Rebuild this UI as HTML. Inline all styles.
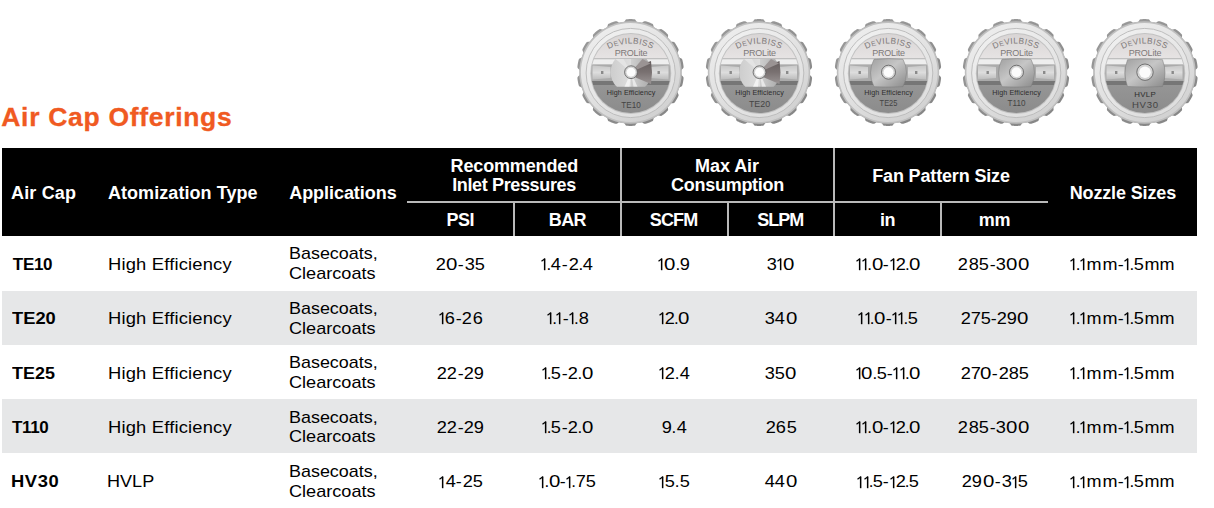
<!DOCTYPE html>
<html><head><meta charset="utf-8"><style>
html,body{margin:0;padding:0;background:#fff;}
body{width:1214px;height:508px;position:relative;overflow:hidden;font-family:"Liberation Sans",sans-serif;}
.t{position:absolute;white-space:nowrap;}
.g1{position:absolute;}
.hd{position:absolute;left:1.5px;top:147.8px;width:1195.8px;height:88px;background:#000;}
.bg{position:absolute;left:1.5px;width:1195.8px;background:#e6e7e8;}
.ln{position:absolute;background:#b9b9b9;}
svg{position:absolute;left:0;top:0;}
</style></head><body>
<svg width="1214" height="140" viewBox="0 0 1214 140">
<defs>
<linearGradient id="gTop" x1="0" y1="0" x2="0" y2="1">
<stop offset="0" stop-color="#d8d4d4"/><stop offset="1" stop-color="#e6e3e3"/></linearGradient>
<linearGradient id="gRing" x1="0.2" y1="0" x2="0.8" y2="1">
<stop offset="0" stop-color="#eeeeee"/><stop offset="0.55" stop-color="#e0e0e0"/><stop offset="1" stop-color="#cfcfcf"/></linearGradient>
<linearGradient id="gRing2" x1="0.2" y1="0" x2="0.8" y2="1"><stop offset="0" stop-color="#f0f0f0"/><stop offset="1" stop-color="#dddddd"/></linearGradient>
<linearGradient id="gGear" x1="0.2" y1="0" x2="0.8" y2="1">
<stop offset="0" stop-color="#9a9a9a"/><stop offset="1" stop-color="#858585"/></linearGradient>
<linearGradient id="gBot" x1="0" y1="0" x2="0" y2="1">
<stop offset="0" stop-color="#959595"/><stop offset="1" stop-color="#8b8b8b"/></linearGradient>
<linearGradient id="gDisc" x1="0" y1="0" x2="1" y2="0">
<stop offset="0" stop-color="#cdcdcd"/><stop offset="0.5" stop-color="#dedede"/><stop offset="0.5" stop-color="#d0d0d0"/><stop offset="1" stop-color="#a8a8a8"/></linearGradient>
<linearGradient id="gWedge" x1="0" y1="0" x2="0" y2="1"><stop offset="0" stop-color="#645c5c"/><stop offset="0.5" stop-color="#7a7272"/><stop offset="1" stop-color="#9a9494"/></linearGradient>
<linearGradient id="gPlate" x1="0" y1="0" x2="1" y2="1">
<stop offset="0" stop-color="#a0a0a0"/><stop offset="0.45" stop-color="#c6c6c6"/><stop offset="1" stop-color="#8a8a8a"/></linearGradient>
<linearGradient id="gPanel" x1="0" y1="0" x2="0" y2="1">
<stop offset="0" stop-color="#c8c8c8"/><stop offset="0.5" stop-color="#dddddd"/><stop offset="1" stop-color="#bdbdbd"/></linearGradient>
<path id="arc" d="M-30,-17.8 A46,46 0 0 1 30,-17.8" />
<clipPath id="face"><circle cx="0.3" cy="1" r="39.6"/></clipPath>
<clipPath id="band"><rect x="-41" y="-13.6" width="82" height="27.9"/></clipPath>
</defs><g transform="translate(630.5,72.5)"><path d="M0.00,-53.40 L0.78,-53.39 L1.55,-53.38 L2.33,-53.35 L3.10,-53.30 L3.88,-53.21 L4.63,-52.94 L5.32,-52.10 L5.97,-51.07 L6.66,-50.61 L7.38,-50.41 L8.11,-50.27 L8.84,-50.15 L9.57,-50.02 L10.30,-49.90 L11.05,-49.84 L11.86,-50.03 L12.82,-50.77 L13.75,-51.33 L14.56,-51.33 L15.31,-51.15 L16.06,-50.93 L16.80,-50.69 L17.53,-50.44 L18.26,-50.18 L18.99,-49.91 L19.72,-49.63 L20.43,-49.33 L21.15,-49.02 L21.84,-48.68 L22.46,-48.16 L22.82,-47.13 L23.08,-45.95 L23.57,-45.28 L24.18,-44.85 L24.82,-44.47 L25.46,-44.10 L26.10,-43.73 L26.75,-43.36 L27.43,-43.05 L28.26,-42.96 L29.41,-43.33 L30.48,-43.53 L31.23,-43.26 L31.88,-42.83 L32.51,-42.36 L33.12,-41.89 L33.73,-41.40 L34.32,-40.91 L34.92,-40.40 L35.50,-39.89 L36.08,-39.37 L36.64,-38.84 L37.17,-38.27 L37.58,-37.58 L37.56,-36.49 L37.40,-35.29 L37.63,-34.49 L38.06,-33.87 L38.53,-33.30 L39.01,-32.73 L39.48,-32.16 L39.97,-31.60 L40.50,-31.07 L41.25,-30.71 L42.46,-30.66 L43.53,-30.48 L44.15,-29.96 L44.61,-29.34 L45.04,-28.69 L45.45,-28.03 L45.85,-27.37 L46.25,-26.70 L46.63,-26.02 L47.00,-25.34 L47.36,-24.66 L47.71,-23.96 L48.02,-23.25 L48.16,-22.46 L47.78,-21.44 L47.21,-20.37 L47.16,-19.53 L47.35,-18.81 L47.60,-18.11 L47.85,-17.42 L48.10,-16.72 L48.36,-16.03 L48.68,-15.35 L49.26,-14.75 L50.38,-14.29 L51.33,-13.75 L51.73,-13.06 L51.95,-12.31 L52.13,-11.56 L52.30,-10.80 L52.45,-10.04 L52.59,-9.27 L52.72,-8.51 L52.84,-7.74 L52.94,-6.97 L53.03,-6.20 L53.08,-5.42 L52.94,-4.63 L52.23,-3.80 L51.33,-2.99 L51.00,-2.23 L50.93,-1.48 L50.92,-0.74 L50.92,0.00 L50.92,0.74 L50.93,1.48 L51.00,2.23 L51.33,2.99 L52.23,3.80 L52.94,4.63 L53.08,5.42 L53.03,6.20 L52.94,6.97 L52.84,7.74 L52.72,8.51 L52.59,9.27 L52.45,10.04 L52.30,10.80 L52.13,11.56 L51.95,12.31 L51.73,13.06 L51.33,13.75 L50.38,14.29 L49.26,14.75 L48.68,15.35 L48.36,16.03 L48.10,16.72 L47.85,17.42 L47.60,18.11 L47.35,18.81 L47.16,19.53 L47.21,20.37 L47.78,21.44 L48.16,22.46 L48.02,23.25 L47.71,23.96 L47.36,24.66 L47.00,25.34 L46.63,26.02 L46.25,26.70 L45.85,27.37 L45.45,28.03 L45.04,28.69 L44.61,29.34 L44.15,29.96 L43.53,30.48 L42.46,30.66 L41.25,30.71 L40.50,31.07 L39.97,31.60 L39.48,32.16 L39.01,32.73 L38.53,33.30 L38.06,33.87 L37.63,34.49 L37.40,35.29 L37.56,36.49 L37.58,37.58 L37.17,38.27 L36.64,38.84 L36.08,39.37 L35.50,39.89 L34.92,40.40 L34.32,40.91 L33.73,41.40 L33.12,41.89 L32.51,42.36 L31.88,42.83 L31.23,43.26 L30.48,43.53 L29.41,43.33 L28.26,42.96 L27.43,43.05 L26.75,43.36 L26.10,43.73 L25.46,44.10 L24.82,44.47 L24.18,44.85 L23.57,45.28 L23.08,45.95 L22.82,47.13 L22.46,48.16 L21.84,48.68 L21.15,49.02 L20.43,49.33 L19.72,49.63 L18.99,49.91 L18.26,50.18 L17.53,50.44 L16.80,50.69 L16.06,50.93 L15.31,51.15 L14.56,51.33 L13.75,51.33 L12.82,50.77 L11.86,50.03 L11.05,49.84 L10.30,49.90 L9.57,50.02 L8.84,50.15 L8.11,50.27 L7.38,50.41 L6.66,50.61 L5.97,51.07 L5.32,52.10 L4.63,52.94 L3.88,53.21 L3.10,53.30 L2.33,53.35 L1.55,53.38 L0.78,53.39 L0.00,53.40 L-0.78,53.39 L-1.55,53.38 L-2.33,53.35 L-3.10,53.30 L-3.88,53.21 L-4.63,52.94 L-5.32,52.10 L-5.97,51.07 L-6.66,50.61 L-7.38,50.41 L-8.11,50.27 L-8.84,50.15 L-9.57,50.02 L-10.30,49.90 L-11.05,49.84 L-11.86,50.03 L-12.82,50.77 L-13.75,51.33 L-14.56,51.33 L-15.31,51.15 L-16.06,50.93 L-16.80,50.69 L-17.53,50.44 L-18.26,50.18 L-18.99,49.91 L-19.72,49.63 L-20.43,49.33 L-21.15,49.02 L-21.84,48.68 L-22.46,48.16 L-22.82,47.13 L-23.08,45.95 L-23.57,45.28 L-24.18,44.85 L-24.82,44.47 L-25.46,44.10 L-26.10,43.73 L-26.75,43.36 L-27.43,43.05 L-28.26,42.96 L-29.41,43.33 L-30.48,43.53 L-31.23,43.26 L-31.88,42.83 L-32.51,42.36 L-33.12,41.89 L-33.73,41.40 L-34.32,40.91 L-34.92,40.40 L-35.50,39.89 L-36.08,39.37 L-36.64,38.84 L-37.17,38.27 L-37.58,37.58 L-37.56,36.49 L-37.40,35.29 L-37.63,34.49 L-38.06,33.87 L-38.53,33.30 L-39.01,32.73 L-39.48,32.16 L-39.97,31.60 L-40.50,31.07 L-41.25,30.71 L-42.46,30.66 L-43.53,30.48 L-44.15,29.96 L-44.61,29.34 L-45.04,28.69 L-45.45,28.03 L-45.85,27.37 L-46.25,26.70 L-46.63,26.02 L-47.00,25.34 L-47.36,24.66 L-47.71,23.96 L-48.02,23.25 L-48.16,22.46 L-47.78,21.44 L-47.21,20.37 L-47.16,19.53 L-47.35,18.81 L-47.60,18.11 L-47.85,17.42 L-48.10,16.72 L-48.36,16.03 L-48.68,15.35 L-49.26,14.75 L-50.38,14.29 L-51.33,13.75 L-51.73,13.06 L-51.95,12.31 L-52.13,11.56 L-52.30,10.80 L-52.45,10.04 L-52.59,9.27 L-52.72,8.51 L-52.84,7.74 L-52.94,6.97 L-53.03,6.20 L-53.08,5.42 L-52.94,4.63 L-52.23,3.80 L-51.33,2.99 L-51.00,2.23 L-50.93,1.48 L-50.92,0.74 L-50.92,0.00 L-50.92,-0.74 L-50.93,-1.48 L-51.00,-2.23 L-51.33,-2.99 L-52.23,-3.80 L-52.94,-4.63 L-53.08,-5.42 L-53.03,-6.20 L-52.94,-6.97 L-52.84,-7.74 L-52.72,-8.51 L-52.59,-9.27 L-52.45,-10.04 L-52.30,-10.80 L-52.13,-11.56 L-51.95,-12.31 L-51.73,-13.06 L-51.33,-13.75 L-50.38,-14.29 L-49.26,-14.75 L-48.68,-15.35 L-48.36,-16.03 L-48.10,-16.72 L-47.85,-17.42 L-47.60,-18.11 L-47.35,-18.81 L-47.16,-19.53 L-47.21,-20.37 L-47.78,-21.44 L-48.16,-22.46 L-48.02,-23.25 L-47.71,-23.96 L-47.36,-24.66 L-47.00,-25.34 L-46.63,-26.02 L-46.25,-26.70 L-45.85,-27.37 L-45.45,-28.03 L-45.04,-28.69 L-44.61,-29.34 L-44.15,-29.96 L-43.53,-30.48 L-42.46,-30.66 L-41.25,-30.71 L-40.50,-31.07 L-39.97,-31.60 L-39.48,-32.16 L-39.01,-32.73 L-38.53,-33.30 L-38.06,-33.87 L-37.63,-34.49 L-37.40,-35.29 L-37.56,-36.49 L-37.58,-37.58 L-37.17,-38.27 L-36.64,-38.84 L-36.08,-39.37 L-35.50,-39.89 L-34.92,-40.40 L-34.32,-40.91 L-33.73,-41.40 L-33.12,-41.89 L-32.51,-42.36 L-31.88,-42.83 L-31.23,-43.26 L-30.48,-43.53 L-29.41,-43.33 L-28.26,-42.96 L-27.43,-43.05 L-26.75,-43.36 L-26.10,-43.73 L-25.46,-44.10 L-24.82,-44.47 L-24.18,-44.85 L-23.57,-45.28 L-23.08,-45.95 L-22.82,-47.13 L-22.46,-48.16 L-21.84,-48.68 L-21.15,-49.02 L-20.43,-49.33 L-19.72,-49.63 L-18.99,-49.91 L-18.26,-50.18 L-17.53,-50.44 L-16.80,-50.69 L-16.06,-50.93 L-15.31,-51.15 L-14.56,-51.33 L-13.75,-51.33 L-12.82,-50.77 L-11.86,-50.03 L-11.05,-49.84 L-10.30,-49.90 L-9.57,-50.02 L-8.84,-50.15 L-8.11,-50.27 L-7.38,-50.41 L-6.66,-50.61 L-5.97,-51.07 L-5.32,-52.10 L-4.63,-52.94 L-3.88,-53.21 L-3.10,-53.30 L-2.33,-53.35 L-1.55,-53.38 L-0.78,-53.39Z" fill="url(#gGear)"/><circle r="51.2" fill="#bfbfbf"/><circle r="49.6" fill="url(#gRing)"/><circle cx="0.2" cy="0.5" r="44.6" fill="url(#gRing2)" stroke="#b9b9b9" stroke-width="0.9"/><circle cx="0.3" cy="1" r="40.5" fill="#c2c2c2"/><g clip-path="url(#face)"><rect x="-41" y="-41" width="82" height="26.8" fill="url(#gTop)"/><rect x="-41" y="-14.2" width="82" height="1" fill="#b9b9b9"/><rect x="-41" y="-13.2" width="82" height="5.2" fill="#eeeeee"/><rect x="-41" y="-8" width="82" height="16.5" fill="#ababab"/><path d="M-38,-7 L-20,-5.5 L-20,5.5 L-38,7 Z" fill="url(#gPanel)"/><path d="M38,-7 L20,-5.5 L20,5.5 L38,7 Z" fill="url(#gPanel)"/><rect x="-29.5" y="-1.5" width="2.4" height="3" fill="#8a8a8a"/><rect x="27" y="-1.5" width="2.4" height="3" fill="#8a8a8a"/><rect x="-41" y="8.5" width="82" height="4" fill="#767676"/><rect x="-41" y="12.5" width="82" height="30" fill="url(#gBot)"/><g clip-path="url(#band)"><circle cx="0.5" cy="-0.3" r="20.4" fill="url(#gDisc)"/><path d="M5,-5.5 L20.5,-11.5 L21.5,0 L20.5,11.5 L5,5 Z" fill="url(#gWedge)"/><path d="M0.5,-0.3 L12,-13.6 L20,-9 Z" fill="#9a9393"/><path d="M0.5,-0.3 L-6,14.3 L-1,14.3 Z" fill="#f2f2f2"/><path d="M0.5,-0.3 L3,14.3 L7,14.3 Z" fill="#e8e8e8"/><path d="M0.5,-0.3 L-15,-13.6 L-7,-13.6 Z" fill="#e4e4e4"/></g><circle cx="0.5" cy="-0.3" r="6.4" fill="#d4d4d4" stroke="#5a5a5a" stroke-width="0.8"/><circle cx="0.5" cy="-0.3" r="4.48" fill="#fcfcfc"/></g><text font-family="Liberation Sans" font-size="8.4" fill="#7d7878" letter-spacing="0.35"><textPath href="#arc" startOffset="50%" text-anchor="middle">D<tspan font-size="7">E</tspan>VILBISS</textPath></text><text x="0.5" y="-17" font-family="Liberation Sans" font-size="9" fill="#7d7878" text-anchor="middle" letter-spacing="-0.2">PROLite</text><text x="-23.80" y="22.5" font-family="Liberation Sans" font-size="7.2" fill="#2e2e2e" textLength="48.6" lengthAdjust="spacing">High Efficiency</text><text x="-9.25" y="35.0" font-family="Liberation Sans" font-size="9.3" fill="#444" textLength="19.5" lengthAdjust="spacingAndGlyphs">TE10</text></g><g transform="translate(759,72.5)"><path d="M0.00,-53.40 L0.78,-53.39 L1.55,-53.38 L2.33,-53.35 L3.10,-53.30 L3.88,-53.21 L4.63,-52.94 L5.32,-52.10 L5.97,-51.07 L6.66,-50.61 L7.38,-50.41 L8.11,-50.27 L8.84,-50.15 L9.57,-50.02 L10.30,-49.90 L11.05,-49.84 L11.86,-50.03 L12.82,-50.77 L13.75,-51.33 L14.56,-51.33 L15.31,-51.15 L16.06,-50.93 L16.80,-50.69 L17.53,-50.44 L18.26,-50.18 L18.99,-49.91 L19.72,-49.63 L20.43,-49.33 L21.15,-49.02 L21.84,-48.68 L22.46,-48.16 L22.82,-47.13 L23.08,-45.95 L23.57,-45.28 L24.18,-44.85 L24.82,-44.47 L25.46,-44.10 L26.10,-43.73 L26.75,-43.36 L27.43,-43.05 L28.26,-42.96 L29.41,-43.33 L30.48,-43.53 L31.23,-43.26 L31.88,-42.83 L32.51,-42.36 L33.12,-41.89 L33.73,-41.40 L34.32,-40.91 L34.92,-40.40 L35.50,-39.89 L36.08,-39.37 L36.64,-38.84 L37.17,-38.27 L37.58,-37.58 L37.56,-36.49 L37.40,-35.29 L37.63,-34.49 L38.06,-33.87 L38.53,-33.30 L39.01,-32.73 L39.48,-32.16 L39.97,-31.60 L40.50,-31.07 L41.25,-30.71 L42.46,-30.66 L43.53,-30.48 L44.15,-29.96 L44.61,-29.34 L45.04,-28.69 L45.45,-28.03 L45.85,-27.37 L46.25,-26.70 L46.63,-26.02 L47.00,-25.34 L47.36,-24.66 L47.71,-23.96 L48.02,-23.25 L48.16,-22.46 L47.78,-21.44 L47.21,-20.37 L47.16,-19.53 L47.35,-18.81 L47.60,-18.11 L47.85,-17.42 L48.10,-16.72 L48.36,-16.03 L48.68,-15.35 L49.26,-14.75 L50.38,-14.29 L51.33,-13.75 L51.73,-13.06 L51.95,-12.31 L52.13,-11.56 L52.30,-10.80 L52.45,-10.04 L52.59,-9.27 L52.72,-8.51 L52.84,-7.74 L52.94,-6.97 L53.03,-6.20 L53.08,-5.42 L52.94,-4.63 L52.23,-3.80 L51.33,-2.99 L51.00,-2.23 L50.93,-1.48 L50.92,-0.74 L50.92,0.00 L50.92,0.74 L50.93,1.48 L51.00,2.23 L51.33,2.99 L52.23,3.80 L52.94,4.63 L53.08,5.42 L53.03,6.20 L52.94,6.97 L52.84,7.74 L52.72,8.51 L52.59,9.27 L52.45,10.04 L52.30,10.80 L52.13,11.56 L51.95,12.31 L51.73,13.06 L51.33,13.75 L50.38,14.29 L49.26,14.75 L48.68,15.35 L48.36,16.03 L48.10,16.72 L47.85,17.42 L47.60,18.11 L47.35,18.81 L47.16,19.53 L47.21,20.37 L47.78,21.44 L48.16,22.46 L48.02,23.25 L47.71,23.96 L47.36,24.66 L47.00,25.34 L46.63,26.02 L46.25,26.70 L45.85,27.37 L45.45,28.03 L45.04,28.69 L44.61,29.34 L44.15,29.96 L43.53,30.48 L42.46,30.66 L41.25,30.71 L40.50,31.07 L39.97,31.60 L39.48,32.16 L39.01,32.73 L38.53,33.30 L38.06,33.87 L37.63,34.49 L37.40,35.29 L37.56,36.49 L37.58,37.58 L37.17,38.27 L36.64,38.84 L36.08,39.37 L35.50,39.89 L34.92,40.40 L34.32,40.91 L33.73,41.40 L33.12,41.89 L32.51,42.36 L31.88,42.83 L31.23,43.26 L30.48,43.53 L29.41,43.33 L28.26,42.96 L27.43,43.05 L26.75,43.36 L26.10,43.73 L25.46,44.10 L24.82,44.47 L24.18,44.85 L23.57,45.28 L23.08,45.95 L22.82,47.13 L22.46,48.16 L21.84,48.68 L21.15,49.02 L20.43,49.33 L19.72,49.63 L18.99,49.91 L18.26,50.18 L17.53,50.44 L16.80,50.69 L16.06,50.93 L15.31,51.15 L14.56,51.33 L13.75,51.33 L12.82,50.77 L11.86,50.03 L11.05,49.84 L10.30,49.90 L9.57,50.02 L8.84,50.15 L8.11,50.27 L7.38,50.41 L6.66,50.61 L5.97,51.07 L5.32,52.10 L4.63,52.94 L3.88,53.21 L3.10,53.30 L2.33,53.35 L1.55,53.38 L0.78,53.39 L0.00,53.40 L-0.78,53.39 L-1.55,53.38 L-2.33,53.35 L-3.10,53.30 L-3.88,53.21 L-4.63,52.94 L-5.32,52.10 L-5.97,51.07 L-6.66,50.61 L-7.38,50.41 L-8.11,50.27 L-8.84,50.15 L-9.57,50.02 L-10.30,49.90 L-11.05,49.84 L-11.86,50.03 L-12.82,50.77 L-13.75,51.33 L-14.56,51.33 L-15.31,51.15 L-16.06,50.93 L-16.80,50.69 L-17.53,50.44 L-18.26,50.18 L-18.99,49.91 L-19.72,49.63 L-20.43,49.33 L-21.15,49.02 L-21.84,48.68 L-22.46,48.16 L-22.82,47.13 L-23.08,45.95 L-23.57,45.28 L-24.18,44.85 L-24.82,44.47 L-25.46,44.10 L-26.10,43.73 L-26.75,43.36 L-27.43,43.05 L-28.26,42.96 L-29.41,43.33 L-30.48,43.53 L-31.23,43.26 L-31.88,42.83 L-32.51,42.36 L-33.12,41.89 L-33.73,41.40 L-34.32,40.91 L-34.92,40.40 L-35.50,39.89 L-36.08,39.37 L-36.64,38.84 L-37.17,38.27 L-37.58,37.58 L-37.56,36.49 L-37.40,35.29 L-37.63,34.49 L-38.06,33.87 L-38.53,33.30 L-39.01,32.73 L-39.48,32.16 L-39.97,31.60 L-40.50,31.07 L-41.25,30.71 L-42.46,30.66 L-43.53,30.48 L-44.15,29.96 L-44.61,29.34 L-45.04,28.69 L-45.45,28.03 L-45.85,27.37 L-46.25,26.70 L-46.63,26.02 L-47.00,25.34 L-47.36,24.66 L-47.71,23.96 L-48.02,23.25 L-48.16,22.46 L-47.78,21.44 L-47.21,20.37 L-47.16,19.53 L-47.35,18.81 L-47.60,18.11 L-47.85,17.42 L-48.10,16.72 L-48.36,16.03 L-48.68,15.35 L-49.26,14.75 L-50.38,14.29 L-51.33,13.75 L-51.73,13.06 L-51.95,12.31 L-52.13,11.56 L-52.30,10.80 L-52.45,10.04 L-52.59,9.27 L-52.72,8.51 L-52.84,7.74 L-52.94,6.97 L-53.03,6.20 L-53.08,5.42 L-52.94,4.63 L-52.23,3.80 L-51.33,2.99 L-51.00,2.23 L-50.93,1.48 L-50.92,0.74 L-50.92,0.00 L-50.92,-0.74 L-50.93,-1.48 L-51.00,-2.23 L-51.33,-2.99 L-52.23,-3.80 L-52.94,-4.63 L-53.08,-5.42 L-53.03,-6.20 L-52.94,-6.97 L-52.84,-7.74 L-52.72,-8.51 L-52.59,-9.27 L-52.45,-10.04 L-52.30,-10.80 L-52.13,-11.56 L-51.95,-12.31 L-51.73,-13.06 L-51.33,-13.75 L-50.38,-14.29 L-49.26,-14.75 L-48.68,-15.35 L-48.36,-16.03 L-48.10,-16.72 L-47.85,-17.42 L-47.60,-18.11 L-47.35,-18.81 L-47.16,-19.53 L-47.21,-20.37 L-47.78,-21.44 L-48.16,-22.46 L-48.02,-23.25 L-47.71,-23.96 L-47.36,-24.66 L-47.00,-25.34 L-46.63,-26.02 L-46.25,-26.70 L-45.85,-27.37 L-45.45,-28.03 L-45.04,-28.69 L-44.61,-29.34 L-44.15,-29.96 L-43.53,-30.48 L-42.46,-30.66 L-41.25,-30.71 L-40.50,-31.07 L-39.97,-31.60 L-39.48,-32.16 L-39.01,-32.73 L-38.53,-33.30 L-38.06,-33.87 L-37.63,-34.49 L-37.40,-35.29 L-37.56,-36.49 L-37.58,-37.58 L-37.17,-38.27 L-36.64,-38.84 L-36.08,-39.37 L-35.50,-39.89 L-34.92,-40.40 L-34.32,-40.91 L-33.73,-41.40 L-33.12,-41.89 L-32.51,-42.36 L-31.88,-42.83 L-31.23,-43.26 L-30.48,-43.53 L-29.41,-43.33 L-28.26,-42.96 L-27.43,-43.05 L-26.75,-43.36 L-26.10,-43.73 L-25.46,-44.10 L-24.82,-44.47 L-24.18,-44.85 L-23.57,-45.28 L-23.08,-45.95 L-22.82,-47.13 L-22.46,-48.16 L-21.84,-48.68 L-21.15,-49.02 L-20.43,-49.33 L-19.72,-49.63 L-18.99,-49.91 L-18.26,-50.18 L-17.53,-50.44 L-16.80,-50.69 L-16.06,-50.93 L-15.31,-51.15 L-14.56,-51.33 L-13.75,-51.33 L-12.82,-50.77 L-11.86,-50.03 L-11.05,-49.84 L-10.30,-49.90 L-9.57,-50.02 L-8.84,-50.15 L-8.11,-50.27 L-7.38,-50.41 L-6.66,-50.61 L-5.97,-51.07 L-5.32,-52.10 L-4.63,-52.94 L-3.88,-53.21 L-3.10,-53.30 L-2.33,-53.35 L-1.55,-53.38 L-0.78,-53.39Z" fill="url(#gGear)"/><circle r="51.2" fill="#bfbfbf"/><circle r="49.6" fill="url(#gRing)"/><circle cx="0.2" cy="0.5" r="44.6" fill="url(#gRing2)" stroke="#b9b9b9" stroke-width="0.9"/><circle cx="0.3" cy="1" r="40.5" fill="#c2c2c2"/><g clip-path="url(#face)"><rect x="-41" y="-41" width="82" height="26.8" fill="url(#gTop)"/><rect x="-41" y="-14.2" width="82" height="1" fill="#b9b9b9"/><rect x="-41" y="-13.2" width="82" height="5.2" fill="#eeeeee"/><rect x="-41" y="-8" width="82" height="16.5" fill="#ababab"/><path d="M-38,-7 L-20,-5.5 L-20,5.5 L-38,7 Z" fill="url(#gPanel)"/><path d="M38,-7 L20,-5.5 L20,5.5 L38,7 Z" fill="url(#gPanel)"/><rect x="-29.5" y="-1.5" width="2.4" height="3" fill="#8a8a8a"/><rect x="27" y="-1.5" width="2.4" height="3" fill="#8a8a8a"/><rect x="-41" y="8.5" width="82" height="4" fill="#767676"/><rect x="-41" y="12.5" width="82" height="30" fill="url(#gBot)"/><g clip-path="url(#band)"><circle cx="0.5" cy="-0.3" r="20.4" fill="url(#gDisc)"/><path d="M5,-5.5 L20.5,-11.5 L21.5,0 L20.5,11.5 L5,5 Z" fill="url(#gWedge)"/><path d="M0.5,-0.3 L12,-13.6 L20,-9 Z" fill="#9a9393"/><path d="M0.5,-0.3 L-6,14.3 L-1,14.3 Z" fill="#f2f2f2"/><path d="M0.5,-0.3 L3,14.3 L7,14.3 Z" fill="#e8e8e8"/><path d="M0.5,-0.3 L-15,-13.6 L-7,-13.6 Z" fill="#e4e4e4"/></g><circle cx="0.5" cy="-0.3" r="6.4" fill="#d4d4d4" stroke="#5a5a5a" stroke-width="0.8"/><circle cx="0.5" cy="-0.3" r="4.48" fill="#fcfcfc"/></g><text font-family="Liberation Sans" font-size="8.4" fill="#7d7878" letter-spacing="0.35"><textPath href="#arc" startOffset="50%" text-anchor="middle">D<tspan font-size="7">E</tspan>VILBISS</textPath></text><text x="0.5" y="-17" font-family="Liberation Sans" font-size="9" fill="#7d7878" text-anchor="middle" letter-spacing="-0.2">PROLite</text><text x="-23.80" y="22.5" font-family="Liberation Sans" font-size="7.2" fill="#2e2e2e" textLength="48.6" lengthAdjust="spacing">High Efficiency</text><text x="-10.10" y="34.2" font-family="Liberation Sans" font-size="9.3" fill="#444" textLength="21.2" lengthAdjust="spacingAndGlyphs">TE20</text></g><g transform="translate(888,72.5)"><path d="M0.00,-53.40 L0.78,-53.39 L1.55,-53.38 L2.33,-53.35 L3.10,-53.30 L3.88,-53.21 L4.63,-52.94 L5.32,-52.10 L5.97,-51.07 L6.66,-50.61 L7.38,-50.41 L8.11,-50.27 L8.84,-50.15 L9.57,-50.02 L10.30,-49.90 L11.05,-49.84 L11.86,-50.03 L12.82,-50.77 L13.75,-51.33 L14.56,-51.33 L15.31,-51.15 L16.06,-50.93 L16.80,-50.69 L17.53,-50.44 L18.26,-50.18 L18.99,-49.91 L19.72,-49.63 L20.43,-49.33 L21.15,-49.02 L21.84,-48.68 L22.46,-48.16 L22.82,-47.13 L23.08,-45.95 L23.57,-45.28 L24.18,-44.85 L24.82,-44.47 L25.46,-44.10 L26.10,-43.73 L26.75,-43.36 L27.43,-43.05 L28.26,-42.96 L29.41,-43.33 L30.48,-43.53 L31.23,-43.26 L31.88,-42.83 L32.51,-42.36 L33.12,-41.89 L33.73,-41.40 L34.32,-40.91 L34.92,-40.40 L35.50,-39.89 L36.08,-39.37 L36.64,-38.84 L37.17,-38.27 L37.58,-37.58 L37.56,-36.49 L37.40,-35.29 L37.63,-34.49 L38.06,-33.87 L38.53,-33.30 L39.01,-32.73 L39.48,-32.16 L39.97,-31.60 L40.50,-31.07 L41.25,-30.71 L42.46,-30.66 L43.53,-30.48 L44.15,-29.96 L44.61,-29.34 L45.04,-28.69 L45.45,-28.03 L45.85,-27.37 L46.25,-26.70 L46.63,-26.02 L47.00,-25.34 L47.36,-24.66 L47.71,-23.96 L48.02,-23.25 L48.16,-22.46 L47.78,-21.44 L47.21,-20.37 L47.16,-19.53 L47.35,-18.81 L47.60,-18.11 L47.85,-17.42 L48.10,-16.72 L48.36,-16.03 L48.68,-15.35 L49.26,-14.75 L50.38,-14.29 L51.33,-13.75 L51.73,-13.06 L51.95,-12.31 L52.13,-11.56 L52.30,-10.80 L52.45,-10.04 L52.59,-9.27 L52.72,-8.51 L52.84,-7.74 L52.94,-6.97 L53.03,-6.20 L53.08,-5.42 L52.94,-4.63 L52.23,-3.80 L51.33,-2.99 L51.00,-2.23 L50.93,-1.48 L50.92,-0.74 L50.92,0.00 L50.92,0.74 L50.93,1.48 L51.00,2.23 L51.33,2.99 L52.23,3.80 L52.94,4.63 L53.08,5.42 L53.03,6.20 L52.94,6.97 L52.84,7.74 L52.72,8.51 L52.59,9.27 L52.45,10.04 L52.30,10.80 L52.13,11.56 L51.95,12.31 L51.73,13.06 L51.33,13.75 L50.38,14.29 L49.26,14.75 L48.68,15.35 L48.36,16.03 L48.10,16.72 L47.85,17.42 L47.60,18.11 L47.35,18.81 L47.16,19.53 L47.21,20.37 L47.78,21.44 L48.16,22.46 L48.02,23.25 L47.71,23.96 L47.36,24.66 L47.00,25.34 L46.63,26.02 L46.25,26.70 L45.85,27.37 L45.45,28.03 L45.04,28.69 L44.61,29.34 L44.15,29.96 L43.53,30.48 L42.46,30.66 L41.25,30.71 L40.50,31.07 L39.97,31.60 L39.48,32.16 L39.01,32.73 L38.53,33.30 L38.06,33.87 L37.63,34.49 L37.40,35.29 L37.56,36.49 L37.58,37.58 L37.17,38.27 L36.64,38.84 L36.08,39.37 L35.50,39.89 L34.92,40.40 L34.32,40.91 L33.73,41.40 L33.12,41.89 L32.51,42.36 L31.88,42.83 L31.23,43.26 L30.48,43.53 L29.41,43.33 L28.26,42.96 L27.43,43.05 L26.75,43.36 L26.10,43.73 L25.46,44.10 L24.82,44.47 L24.18,44.85 L23.57,45.28 L23.08,45.95 L22.82,47.13 L22.46,48.16 L21.84,48.68 L21.15,49.02 L20.43,49.33 L19.72,49.63 L18.99,49.91 L18.26,50.18 L17.53,50.44 L16.80,50.69 L16.06,50.93 L15.31,51.15 L14.56,51.33 L13.75,51.33 L12.82,50.77 L11.86,50.03 L11.05,49.84 L10.30,49.90 L9.57,50.02 L8.84,50.15 L8.11,50.27 L7.38,50.41 L6.66,50.61 L5.97,51.07 L5.32,52.10 L4.63,52.94 L3.88,53.21 L3.10,53.30 L2.33,53.35 L1.55,53.38 L0.78,53.39 L0.00,53.40 L-0.78,53.39 L-1.55,53.38 L-2.33,53.35 L-3.10,53.30 L-3.88,53.21 L-4.63,52.94 L-5.32,52.10 L-5.97,51.07 L-6.66,50.61 L-7.38,50.41 L-8.11,50.27 L-8.84,50.15 L-9.57,50.02 L-10.30,49.90 L-11.05,49.84 L-11.86,50.03 L-12.82,50.77 L-13.75,51.33 L-14.56,51.33 L-15.31,51.15 L-16.06,50.93 L-16.80,50.69 L-17.53,50.44 L-18.26,50.18 L-18.99,49.91 L-19.72,49.63 L-20.43,49.33 L-21.15,49.02 L-21.84,48.68 L-22.46,48.16 L-22.82,47.13 L-23.08,45.95 L-23.57,45.28 L-24.18,44.85 L-24.82,44.47 L-25.46,44.10 L-26.10,43.73 L-26.75,43.36 L-27.43,43.05 L-28.26,42.96 L-29.41,43.33 L-30.48,43.53 L-31.23,43.26 L-31.88,42.83 L-32.51,42.36 L-33.12,41.89 L-33.73,41.40 L-34.32,40.91 L-34.92,40.40 L-35.50,39.89 L-36.08,39.37 L-36.64,38.84 L-37.17,38.27 L-37.58,37.58 L-37.56,36.49 L-37.40,35.29 L-37.63,34.49 L-38.06,33.87 L-38.53,33.30 L-39.01,32.73 L-39.48,32.16 L-39.97,31.60 L-40.50,31.07 L-41.25,30.71 L-42.46,30.66 L-43.53,30.48 L-44.15,29.96 L-44.61,29.34 L-45.04,28.69 L-45.45,28.03 L-45.85,27.37 L-46.25,26.70 L-46.63,26.02 L-47.00,25.34 L-47.36,24.66 L-47.71,23.96 L-48.02,23.25 L-48.16,22.46 L-47.78,21.44 L-47.21,20.37 L-47.16,19.53 L-47.35,18.81 L-47.60,18.11 L-47.85,17.42 L-48.10,16.72 L-48.36,16.03 L-48.68,15.35 L-49.26,14.75 L-50.38,14.29 L-51.33,13.75 L-51.73,13.06 L-51.95,12.31 L-52.13,11.56 L-52.30,10.80 L-52.45,10.04 L-52.59,9.27 L-52.72,8.51 L-52.84,7.74 L-52.94,6.97 L-53.03,6.20 L-53.08,5.42 L-52.94,4.63 L-52.23,3.80 L-51.33,2.99 L-51.00,2.23 L-50.93,1.48 L-50.92,0.74 L-50.92,0.00 L-50.92,-0.74 L-50.93,-1.48 L-51.00,-2.23 L-51.33,-2.99 L-52.23,-3.80 L-52.94,-4.63 L-53.08,-5.42 L-53.03,-6.20 L-52.94,-6.97 L-52.84,-7.74 L-52.72,-8.51 L-52.59,-9.27 L-52.45,-10.04 L-52.30,-10.80 L-52.13,-11.56 L-51.95,-12.31 L-51.73,-13.06 L-51.33,-13.75 L-50.38,-14.29 L-49.26,-14.75 L-48.68,-15.35 L-48.36,-16.03 L-48.10,-16.72 L-47.85,-17.42 L-47.60,-18.11 L-47.35,-18.81 L-47.16,-19.53 L-47.21,-20.37 L-47.78,-21.44 L-48.16,-22.46 L-48.02,-23.25 L-47.71,-23.96 L-47.36,-24.66 L-47.00,-25.34 L-46.63,-26.02 L-46.25,-26.70 L-45.85,-27.37 L-45.45,-28.03 L-45.04,-28.69 L-44.61,-29.34 L-44.15,-29.96 L-43.53,-30.48 L-42.46,-30.66 L-41.25,-30.71 L-40.50,-31.07 L-39.97,-31.60 L-39.48,-32.16 L-39.01,-32.73 L-38.53,-33.30 L-38.06,-33.87 L-37.63,-34.49 L-37.40,-35.29 L-37.56,-36.49 L-37.58,-37.58 L-37.17,-38.27 L-36.64,-38.84 L-36.08,-39.37 L-35.50,-39.89 L-34.92,-40.40 L-34.32,-40.91 L-33.73,-41.40 L-33.12,-41.89 L-32.51,-42.36 L-31.88,-42.83 L-31.23,-43.26 L-30.48,-43.53 L-29.41,-43.33 L-28.26,-42.96 L-27.43,-43.05 L-26.75,-43.36 L-26.10,-43.73 L-25.46,-44.10 L-24.82,-44.47 L-24.18,-44.85 L-23.57,-45.28 L-23.08,-45.95 L-22.82,-47.13 L-22.46,-48.16 L-21.84,-48.68 L-21.15,-49.02 L-20.43,-49.33 L-19.72,-49.63 L-18.99,-49.91 L-18.26,-50.18 L-17.53,-50.44 L-16.80,-50.69 L-16.06,-50.93 L-15.31,-51.15 L-14.56,-51.33 L-13.75,-51.33 L-12.82,-50.77 L-11.86,-50.03 L-11.05,-49.84 L-10.30,-49.90 L-9.57,-50.02 L-8.84,-50.15 L-8.11,-50.27 L-7.38,-50.41 L-6.66,-50.61 L-5.97,-51.07 L-5.32,-52.10 L-4.63,-52.94 L-3.88,-53.21 L-3.10,-53.30 L-2.33,-53.35 L-1.55,-53.38 L-0.78,-53.39Z" fill="url(#gGear)"/><circle r="51.2" fill="#bfbfbf"/><circle r="49.6" fill="url(#gRing)"/><circle cx="0.2" cy="0.5" r="44.6" fill="url(#gRing2)" stroke="#b9b9b9" stroke-width="0.9"/><circle cx="0.3" cy="1" r="40.5" fill="#c2c2c2"/><g clip-path="url(#face)"><rect x="-41" y="-41" width="82" height="26.8" fill="url(#gTop)"/><rect x="-41" y="-14.2" width="82" height="1" fill="#b9b9b9"/><rect x="-41" y="-13.2" width="82" height="5.2" fill="#eeeeee"/><rect x="-41" y="-8" width="82" height="16.5" fill="#ababab"/><path d="M-38,-7 L-20,-5.5 L-20,5.5 L-38,7 Z" fill="url(#gPanel)"/><path d="M38,-7 L20,-5.5 L20,5.5 L38,7 Z" fill="url(#gPanel)"/><rect x="-29.5" y="-1.5" width="2.4" height="3" fill="#8a8a8a"/><rect x="27" y="-1.5" width="2.4" height="3" fill="#8a8a8a"/><rect x="-41" y="8.5" width="82" height="4" fill="#767676"/><rect x="-41" y="12.5" width="82" height="30" fill="url(#gBot)"/><path d="M-14,-13.2 Q0.5,-14.6 15,-13.2 Q22,0 15,14.2 Q0.5,15 -14,14.2 Q-21,0 -14,-13.2 Z" fill="url(#gPlate)" stroke="#7a7a7a" stroke-width="0.5"/><circle cx="0.5" cy="-0.3" r="7" fill="#d4d4d4" stroke="#5a5a5a" stroke-width="0.8"/><circle cx="0.5" cy="-0.3" r="4.90" fill="#fcfcfc"/></g><text font-family="Liberation Sans" font-size="8.4" fill="#7d7878" letter-spacing="0.35"><textPath href="#arc" startOffset="50%" text-anchor="middle">D<tspan font-size="7">E</tspan>VILBISS</textPath></text><text x="0.5" y="-17" font-family="Liberation Sans" font-size="9" fill="#7d7878" text-anchor="middle" letter-spacing="-0.2">PROLite</text><text x="-23.80" y="22.5" font-family="Liberation Sans" font-size="7.2" fill="#2e2e2e" textLength="48.6" lengthAdjust="spacing">High Efficiency</text><text x="-8.40" y="33.2" font-family="Liberation Sans" font-size="9.3" fill="#444" textLength="17.8" lengthAdjust="spacingAndGlyphs">TE25</text></g><g transform="translate(1016,72.5)"><path d="M0.00,-53.40 L0.78,-53.39 L1.55,-53.38 L2.33,-53.35 L3.10,-53.30 L3.88,-53.21 L4.63,-52.94 L5.32,-52.10 L5.97,-51.07 L6.66,-50.61 L7.38,-50.41 L8.11,-50.27 L8.84,-50.15 L9.57,-50.02 L10.30,-49.90 L11.05,-49.84 L11.86,-50.03 L12.82,-50.77 L13.75,-51.33 L14.56,-51.33 L15.31,-51.15 L16.06,-50.93 L16.80,-50.69 L17.53,-50.44 L18.26,-50.18 L18.99,-49.91 L19.72,-49.63 L20.43,-49.33 L21.15,-49.02 L21.84,-48.68 L22.46,-48.16 L22.82,-47.13 L23.08,-45.95 L23.57,-45.28 L24.18,-44.85 L24.82,-44.47 L25.46,-44.10 L26.10,-43.73 L26.75,-43.36 L27.43,-43.05 L28.26,-42.96 L29.41,-43.33 L30.48,-43.53 L31.23,-43.26 L31.88,-42.83 L32.51,-42.36 L33.12,-41.89 L33.73,-41.40 L34.32,-40.91 L34.92,-40.40 L35.50,-39.89 L36.08,-39.37 L36.64,-38.84 L37.17,-38.27 L37.58,-37.58 L37.56,-36.49 L37.40,-35.29 L37.63,-34.49 L38.06,-33.87 L38.53,-33.30 L39.01,-32.73 L39.48,-32.16 L39.97,-31.60 L40.50,-31.07 L41.25,-30.71 L42.46,-30.66 L43.53,-30.48 L44.15,-29.96 L44.61,-29.34 L45.04,-28.69 L45.45,-28.03 L45.85,-27.37 L46.25,-26.70 L46.63,-26.02 L47.00,-25.34 L47.36,-24.66 L47.71,-23.96 L48.02,-23.25 L48.16,-22.46 L47.78,-21.44 L47.21,-20.37 L47.16,-19.53 L47.35,-18.81 L47.60,-18.11 L47.85,-17.42 L48.10,-16.72 L48.36,-16.03 L48.68,-15.35 L49.26,-14.75 L50.38,-14.29 L51.33,-13.75 L51.73,-13.06 L51.95,-12.31 L52.13,-11.56 L52.30,-10.80 L52.45,-10.04 L52.59,-9.27 L52.72,-8.51 L52.84,-7.74 L52.94,-6.97 L53.03,-6.20 L53.08,-5.42 L52.94,-4.63 L52.23,-3.80 L51.33,-2.99 L51.00,-2.23 L50.93,-1.48 L50.92,-0.74 L50.92,0.00 L50.92,0.74 L50.93,1.48 L51.00,2.23 L51.33,2.99 L52.23,3.80 L52.94,4.63 L53.08,5.42 L53.03,6.20 L52.94,6.97 L52.84,7.74 L52.72,8.51 L52.59,9.27 L52.45,10.04 L52.30,10.80 L52.13,11.56 L51.95,12.31 L51.73,13.06 L51.33,13.75 L50.38,14.29 L49.26,14.75 L48.68,15.35 L48.36,16.03 L48.10,16.72 L47.85,17.42 L47.60,18.11 L47.35,18.81 L47.16,19.53 L47.21,20.37 L47.78,21.44 L48.16,22.46 L48.02,23.25 L47.71,23.96 L47.36,24.66 L47.00,25.34 L46.63,26.02 L46.25,26.70 L45.85,27.37 L45.45,28.03 L45.04,28.69 L44.61,29.34 L44.15,29.96 L43.53,30.48 L42.46,30.66 L41.25,30.71 L40.50,31.07 L39.97,31.60 L39.48,32.16 L39.01,32.73 L38.53,33.30 L38.06,33.87 L37.63,34.49 L37.40,35.29 L37.56,36.49 L37.58,37.58 L37.17,38.27 L36.64,38.84 L36.08,39.37 L35.50,39.89 L34.92,40.40 L34.32,40.91 L33.73,41.40 L33.12,41.89 L32.51,42.36 L31.88,42.83 L31.23,43.26 L30.48,43.53 L29.41,43.33 L28.26,42.96 L27.43,43.05 L26.75,43.36 L26.10,43.73 L25.46,44.10 L24.82,44.47 L24.18,44.85 L23.57,45.28 L23.08,45.95 L22.82,47.13 L22.46,48.16 L21.84,48.68 L21.15,49.02 L20.43,49.33 L19.72,49.63 L18.99,49.91 L18.26,50.18 L17.53,50.44 L16.80,50.69 L16.06,50.93 L15.31,51.15 L14.56,51.33 L13.75,51.33 L12.82,50.77 L11.86,50.03 L11.05,49.84 L10.30,49.90 L9.57,50.02 L8.84,50.15 L8.11,50.27 L7.38,50.41 L6.66,50.61 L5.97,51.07 L5.32,52.10 L4.63,52.94 L3.88,53.21 L3.10,53.30 L2.33,53.35 L1.55,53.38 L0.78,53.39 L0.00,53.40 L-0.78,53.39 L-1.55,53.38 L-2.33,53.35 L-3.10,53.30 L-3.88,53.21 L-4.63,52.94 L-5.32,52.10 L-5.97,51.07 L-6.66,50.61 L-7.38,50.41 L-8.11,50.27 L-8.84,50.15 L-9.57,50.02 L-10.30,49.90 L-11.05,49.84 L-11.86,50.03 L-12.82,50.77 L-13.75,51.33 L-14.56,51.33 L-15.31,51.15 L-16.06,50.93 L-16.80,50.69 L-17.53,50.44 L-18.26,50.18 L-18.99,49.91 L-19.72,49.63 L-20.43,49.33 L-21.15,49.02 L-21.84,48.68 L-22.46,48.16 L-22.82,47.13 L-23.08,45.95 L-23.57,45.28 L-24.18,44.85 L-24.82,44.47 L-25.46,44.10 L-26.10,43.73 L-26.75,43.36 L-27.43,43.05 L-28.26,42.96 L-29.41,43.33 L-30.48,43.53 L-31.23,43.26 L-31.88,42.83 L-32.51,42.36 L-33.12,41.89 L-33.73,41.40 L-34.32,40.91 L-34.92,40.40 L-35.50,39.89 L-36.08,39.37 L-36.64,38.84 L-37.17,38.27 L-37.58,37.58 L-37.56,36.49 L-37.40,35.29 L-37.63,34.49 L-38.06,33.87 L-38.53,33.30 L-39.01,32.73 L-39.48,32.16 L-39.97,31.60 L-40.50,31.07 L-41.25,30.71 L-42.46,30.66 L-43.53,30.48 L-44.15,29.96 L-44.61,29.34 L-45.04,28.69 L-45.45,28.03 L-45.85,27.37 L-46.25,26.70 L-46.63,26.02 L-47.00,25.34 L-47.36,24.66 L-47.71,23.96 L-48.02,23.25 L-48.16,22.46 L-47.78,21.44 L-47.21,20.37 L-47.16,19.53 L-47.35,18.81 L-47.60,18.11 L-47.85,17.42 L-48.10,16.72 L-48.36,16.03 L-48.68,15.35 L-49.26,14.75 L-50.38,14.29 L-51.33,13.75 L-51.73,13.06 L-51.95,12.31 L-52.13,11.56 L-52.30,10.80 L-52.45,10.04 L-52.59,9.27 L-52.72,8.51 L-52.84,7.74 L-52.94,6.97 L-53.03,6.20 L-53.08,5.42 L-52.94,4.63 L-52.23,3.80 L-51.33,2.99 L-51.00,2.23 L-50.93,1.48 L-50.92,0.74 L-50.92,0.00 L-50.92,-0.74 L-50.93,-1.48 L-51.00,-2.23 L-51.33,-2.99 L-52.23,-3.80 L-52.94,-4.63 L-53.08,-5.42 L-53.03,-6.20 L-52.94,-6.97 L-52.84,-7.74 L-52.72,-8.51 L-52.59,-9.27 L-52.45,-10.04 L-52.30,-10.80 L-52.13,-11.56 L-51.95,-12.31 L-51.73,-13.06 L-51.33,-13.75 L-50.38,-14.29 L-49.26,-14.75 L-48.68,-15.35 L-48.36,-16.03 L-48.10,-16.72 L-47.85,-17.42 L-47.60,-18.11 L-47.35,-18.81 L-47.16,-19.53 L-47.21,-20.37 L-47.78,-21.44 L-48.16,-22.46 L-48.02,-23.25 L-47.71,-23.96 L-47.36,-24.66 L-47.00,-25.34 L-46.63,-26.02 L-46.25,-26.70 L-45.85,-27.37 L-45.45,-28.03 L-45.04,-28.69 L-44.61,-29.34 L-44.15,-29.96 L-43.53,-30.48 L-42.46,-30.66 L-41.25,-30.71 L-40.50,-31.07 L-39.97,-31.60 L-39.48,-32.16 L-39.01,-32.73 L-38.53,-33.30 L-38.06,-33.87 L-37.63,-34.49 L-37.40,-35.29 L-37.56,-36.49 L-37.58,-37.58 L-37.17,-38.27 L-36.64,-38.84 L-36.08,-39.37 L-35.50,-39.89 L-34.92,-40.40 L-34.32,-40.91 L-33.73,-41.40 L-33.12,-41.89 L-32.51,-42.36 L-31.88,-42.83 L-31.23,-43.26 L-30.48,-43.53 L-29.41,-43.33 L-28.26,-42.96 L-27.43,-43.05 L-26.75,-43.36 L-26.10,-43.73 L-25.46,-44.10 L-24.82,-44.47 L-24.18,-44.85 L-23.57,-45.28 L-23.08,-45.95 L-22.82,-47.13 L-22.46,-48.16 L-21.84,-48.68 L-21.15,-49.02 L-20.43,-49.33 L-19.72,-49.63 L-18.99,-49.91 L-18.26,-50.18 L-17.53,-50.44 L-16.80,-50.69 L-16.06,-50.93 L-15.31,-51.15 L-14.56,-51.33 L-13.75,-51.33 L-12.82,-50.77 L-11.86,-50.03 L-11.05,-49.84 L-10.30,-49.90 L-9.57,-50.02 L-8.84,-50.15 L-8.11,-50.27 L-7.38,-50.41 L-6.66,-50.61 L-5.97,-51.07 L-5.32,-52.10 L-4.63,-52.94 L-3.88,-53.21 L-3.10,-53.30 L-2.33,-53.35 L-1.55,-53.38 L-0.78,-53.39Z" fill="url(#gGear)"/><circle r="51.2" fill="#bfbfbf"/><circle r="49.6" fill="url(#gRing)"/><circle cx="0.2" cy="0.5" r="44.6" fill="url(#gRing2)" stroke="#b9b9b9" stroke-width="0.9"/><circle cx="0.3" cy="1" r="40.5" fill="#c2c2c2"/><g clip-path="url(#face)"><rect x="-41" y="-41" width="82" height="26.8" fill="url(#gTop)"/><rect x="-41" y="-14.2" width="82" height="1" fill="#b9b9b9"/><rect x="-41" y="-13.2" width="82" height="5.2" fill="#eeeeee"/><rect x="-41" y="-8" width="82" height="16.5" fill="#ababab"/><path d="M-38,-7 L-20,-5.5 L-20,5.5 L-38,7 Z" fill="url(#gPanel)"/><path d="M38,-7 L20,-5.5 L20,5.5 L38,7 Z" fill="url(#gPanel)"/><rect x="-29.5" y="-1.5" width="2.4" height="3" fill="#8a8a8a"/><rect x="27" y="-1.5" width="2.4" height="3" fill="#8a8a8a"/><rect x="-41" y="8.5" width="82" height="4" fill="#767676"/><rect x="-41" y="12.5" width="82" height="30" fill="url(#gBot)"/><path d="M-14,-13.2 Q0.5,-14.6 15,-13.2 Q22,0 15,14.2 Q0.5,15 -14,14.2 Q-21,0 -14,-13.2 Z" fill="url(#gPlate)" stroke="#7a7a7a" stroke-width="0.5"/><circle cx="0.5" cy="-0.3" r="7" fill="#d4d4d4" stroke="#5a5a5a" stroke-width="0.8"/><circle cx="0.5" cy="-0.3" r="4.90" fill="#fcfcfc"/></g><text font-family="Liberation Sans" font-size="8.4" fill="#7d7878" letter-spacing="0.35"><textPath href="#arc" startOffset="50%" text-anchor="middle">D<tspan font-size="7">E</tspan>VILBISS</textPath></text><text x="0.5" y="-17" font-family="Liberation Sans" font-size="9" fill="#7d7878" text-anchor="middle" letter-spacing="-0.2">PROLite</text><text x="-23.80" y="22.5" font-family="Liberation Sans" font-size="7.2" fill="#2e2e2e" textLength="48.6" lengthAdjust="spacing">High Efficiency</text><text x="-8.45" y="33.2" font-family="Liberation Sans" font-size="9.3" fill="#444" textLength="17.9" lengthAdjust="spacingAndGlyphs">T110</text></g><g transform="translate(1144.5,72.5)"><path d="M0.00,-53.40 L0.78,-53.39 L1.55,-53.38 L2.33,-53.35 L3.10,-53.30 L3.88,-53.21 L4.63,-52.94 L5.32,-52.10 L5.97,-51.07 L6.66,-50.61 L7.38,-50.41 L8.11,-50.27 L8.84,-50.15 L9.57,-50.02 L10.30,-49.90 L11.05,-49.84 L11.86,-50.03 L12.82,-50.77 L13.75,-51.33 L14.56,-51.33 L15.31,-51.15 L16.06,-50.93 L16.80,-50.69 L17.53,-50.44 L18.26,-50.18 L18.99,-49.91 L19.72,-49.63 L20.43,-49.33 L21.15,-49.02 L21.84,-48.68 L22.46,-48.16 L22.82,-47.13 L23.08,-45.95 L23.57,-45.28 L24.18,-44.85 L24.82,-44.47 L25.46,-44.10 L26.10,-43.73 L26.75,-43.36 L27.43,-43.05 L28.26,-42.96 L29.41,-43.33 L30.48,-43.53 L31.23,-43.26 L31.88,-42.83 L32.51,-42.36 L33.12,-41.89 L33.73,-41.40 L34.32,-40.91 L34.92,-40.40 L35.50,-39.89 L36.08,-39.37 L36.64,-38.84 L37.17,-38.27 L37.58,-37.58 L37.56,-36.49 L37.40,-35.29 L37.63,-34.49 L38.06,-33.87 L38.53,-33.30 L39.01,-32.73 L39.48,-32.16 L39.97,-31.60 L40.50,-31.07 L41.25,-30.71 L42.46,-30.66 L43.53,-30.48 L44.15,-29.96 L44.61,-29.34 L45.04,-28.69 L45.45,-28.03 L45.85,-27.37 L46.25,-26.70 L46.63,-26.02 L47.00,-25.34 L47.36,-24.66 L47.71,-23.96 L48.02,-23.25 L48.16,-22.46 L47.78,-21.44 L47.21,-20.37 L47.16,-19.53 L47.35,-18.81 L47.60,-18.11 L47.85,-17.42 L48.10,-16.72 L48.36,-16.03 L48.68,-15.35 L49.26,-14.75 L50.38,-14.29 L51.33,-13.75 L51.73,-13.06 L51.95,-12.31 L52.13,-11.56 L52.30,-10.80 L52.45,-10.04 L52.59,-9.27 L52.72,-8.51 L52.84,-7.74 L52.94,-6.97 L53.03,-6.20 L53.08,-5.42 L52.94,-4.63 L52.23,-3.80 L51.33,-2.99 L51.00,-2.23 L50.93,-1.48 L50.92,-0.74 L50.92,0.00 L50.92,0.74 L50.93,1.48 L51.00,2.23 L51.33,2.99 L52.23,3.80 L52.94,4.63 L53.08,5.42 L53.03,6.20 L52.94,6.97 L52.84,7.74 L52.72,8.51 L52.59,9.27 L52.45,10.04 L52.30,10.80 L52.13,11.56 L51.95,12.31 L51.73,13.06 L51.33,13.75 L50.38,14.29 L49.26,14.75 L48.68,15.35 L48.36,16.03 L48.10,16.72 L47.85,17.42 L47.60,18.11 L47.35,18.81 L47.16,19.53 L47.21,20.37 L47.78,21.44 L48.16,22.46 L48.02,23.25 L47.71,23.96 L47.36,24.66 L47.00,25.34 L46.63,26.02 L46.25,26.70 L45.85,27.37 L45.45,28.03 L45.04,28.69 L44.61,29.34 L44.15,29.96 L43.53,30.48 L42.46,30.66 L41.25,30.71 L40.50,31.07 L39.97,31.60 L39.48,32.16 L39.01,32.73 L38.53,33.30 L38.06,33.87 L37.63,34.49 L37.40,35.29 L37.56,36.49 L37.58,37.58 L37.17,38.27 L36.64,38.84 L36.08,39.37 L35.50,39.89 L34.92,40.40 L34.32,40.91 L33.73,41.40 L33.12,41.89 L32.51,42.36 L31.88,42.83 L31.23,43.26 L30.48,43.53 L29.41,43.33 L28.26,42.96 L27.43,43.05 L26.75,43.36 L26.10,43.73 L25.46,44.10 L24.82,44.47 L24.18,44.85 L23.57,45.28 L23.08,45.95 L22.82,47.13 L22.46,48.16 L21.84,48.68 L21.15,49.02 L20.43,49.33 L19.72,49.63 L18.99,49.91 L18.26,50.18 L17.53,50.44 L16.80,50.69 L16.06,50.93 L15.31,51.15 L14.56,51.33 L13.75,51.33 L12.82,50.77 L11.86,50.03 L11.05,49.84 L10.30,49.90 L9.57,50.02 L8.84,50.15 L8.11,50.27 L7.38,50.41 L6.66,50.61 L5.97,51.07 L5.32,52.10 L4.63,52.94 L3.88,53.21 L3.10,53.30 L2.33,53.35 L1.55,53.38 L0.78,53.39 L0.00,53.40 L-0.78,53.39 L-1.55,53.38 L-2.33,53.35 L-3.10,53.30 L-3.88,53.21 L-4.63,52.94 L-5.32,52.10 L-5.97,51.07 L-6.66,50.61 L-7.38,50.41 L-8.11,50.27 L-8.84,50.15 L-9.57,50.02 L-10.30,49.90 L-11.05,49.84 L-11.86,50.03 L-12.82,50.77 L-13.75,51.33 L-14.56,51.33 L-15.31,51.15 L-16.06,50.93 L-16.80,50.69 L-17.53,50.44 L-18.26,50.18 L-18.99,49.91 L-19.72,49.63 L-20.43,49.33 L-21.15,49.02 L-21.84,48.68 L-22.46,48.16 L-22.82,47.13 L-23.08,45.95 L-23.57,45.28 L-24.18,44.85 L-24.82,44.47 L-25.46,44.10 L-26.10,43.73 L-26.75,43.36 L-27.43,43.05 L-28.26,42.96 L-29.41,43.33 L-30.48,43.53 L-31.23,43.26 L-31.88,42.83 L-32.51,42.36 L-33.12,41.89 L-33.73,41.40 L-34.32,40.91 L-34.92,40.40 L-35.50,39.89 L-36.08,39.37 L-36.64,38.84 L-37.17,38.27 L-37.58,37.58 L-37.56,36.49 L-37.40,35.29 L-37.63,34.49 L-38.06,33.87 L-38.53,33.30 L-39.01,32.73 L-39.48,32.16 L-39.97,31.60 L-40.50,31.07 L-41.25,30.71 L-42.46,30.66 L-43.53,30.48 L-44.15,29.96 L-44.61,29.34 L-45.04,28.69 L-45.45,28.03 L-45.85,27.37 L-46.25,26.70 L-46.63,26.02 L-47.00,25.34 L-47.36,24.66 L-47.71,23.96 L-48.02,23.25 L-48.16,22.46 L-47.78,21.44 L-47.21,20.37 L-47.16,19.53 L-47.35,18.81 L-47.60,18.11 L-47.85,17.42 L-48.10,16.72 L-48.36,16.03 L-48.68,15.35 L-49.26,14.75 L-50.38,14.29 L-51.33,13.75 L-51.73,13.06 L-51.95,12.31 L-52.13,11.56 L-52.30,10.80 L-52.45,10.04 L-52.59,9.27 L-52.72,8.51 L-52.84,7.74 L-52.94,6.97 L-53.03,6.20 L-53.08,5.42 L-52.94,4.63 L-52.23,3.80 L-51.33,2.99 L-51.00,2.23 L-50.93,1.48 L-50.92,0.74 L-50.92,0.00 L-50.92,-0.74 L-50.93,-1.48 L-51.00,-2.23 L-51.33,-2.99 L-52.23,-3.80 L-52.94,-4.63 L-53.08,-5.42 L-53.03,-6.20 L-52.94,-6.97 L-52.84,-7.74 L-52.72,-8.51 L-52.59,-9.27 L-52.45,-10.04 L-52.30,-10.80 L-52.13,-11.56 L-51.95,-12.31 L-51.73,-13.06 L-51.33,-13.75 L-50.38,-14.29 L-49.26,-14.75 L-48.68,-15.35 L-48.36,-16.03 L-48.10,-16.72 L-47.85,-17.42 L-47.60,-18.11 L-47.35,-18.81 L-47.16,-19.53 L-47.21,-20.37 L-47.78,-21.44 L-48.16,-22.46 L-48.02,-23.25 L-47.71,-23.96 L-47.36,-24.66 L-47.00,-25.34 L-46.63,-26.02 L-46.25,-26.70 L-45.85,-27.37 L-45.45,-28.03 L-45.04,-28.69 L-44.61,-29.34 L-44.15,-29.96 L-43.53,-30.48 L-42.46,-30.66 L-41.25,-30.71 L-40.50,-31.07 L-39.97,-31.60 L-39.48,-32.16 L-39.01,-32.73 L-38.53,-33.30 L-38.06,-33.87 L-37.63,-34.49 L-37.40,-35.29 L-37.56,-36.49 L-37.58,-37.58 L-37.17,-38.27 L-36.64,-38.84 L-36.08,-39.37 L-35.50,-39.89 L-34.92,-40.40 L-34.32,-40.91 L-33.73,-41.40 L-33.12,-41.89 L-32.51,-42.36 L-31.88,-42.83 L-31.23,-43.26 L-30.48,-43.53 L-29.41,-43.33 L-28.26,-42.96 L-27.43,-43.05 L-26.75,-43.36 L-26.10,-43.73 L-25.46,-44.10 L-24.82,-44.47 L-24.18,-44.85 L-23.57,-45.28 L-23.08,-45.95 L-22.82,-47.13 L-22.46,-48.16 L-21.84,-48.68 L-21.15,-49.02 L-20.43,-49.33 L-19.72,-49.63 L-18.99,-49.91 L-18.26,-50.18 L-17.53,-50.44 L-16.80,-50.69 L-16.06,-50.93 L-15.31,-51.15 L-14.56,-51.33 L-13.75,-51.33 L-12.82,-50.77 L-11.86,-50.03 L-11.05,-49.84 L-10.30,-49.90 L-9.57,-50.02 L-8.84,-50.15 L-8.11,-50.27 L-7.38,-50.41 L-6.66,-50.61 L-5.97,-51.07 L-5.32,-52.10 L-4.63,-52.94 L-3.88,-53.21 L-3.10,-53.30 L-2.33,-53.35 L-1.55,-53.38 L-0.78,-53.39Z" fill="url(#gGear)"/><circle r="51.2" fill="#bfbfbf"/><circle r="49.6" fill="url(#gRing)"/><circle cx="0.2" cy="0.5" r="44.6" fill="url(#gRing2)" stroke="#b9b9b9" stroke-width="0.9"/><circle cx="0.3" cy="1" r="40.5" fill="#c2c2c2"/><g clip-path="url(#face)"><rect x="-41" y="-41" width="82" height="26.8" fill="url(#gTop)"/><rect x="-41" y="-14.2" width="82" height="1" fill="#b9b9b9"/><rect x="-41" y="-13.2" width="82" height="5.2" fill="#eeeeee"/><rect x="-41" y="-8" width="82" height="16.5" fill="#ababab"/><path d="M-38,-7 L-20,-5.5 L-20,5.5 L-38,7 Z" fill="url(#gPanel)"/><path d="M38,-7 L20,-5.5 L20,5.5 L38,7 Z" fill="url(#gPanel)"/><rect x="-29.5" y="-1.5" width="2.4" height="3" fill="#8a8a8a"/><rect x="27" y="-1.5" width="2.4" height="3" fill="#8a8a8a"/><rect x="-41" y="8.5" width="82" height="4" fill="#767676"/><rect x="-41" y="12.5" width="82" height="30" fill="url(#gBot)"/><path d="M-17,-12.8 Q0.5,-14.4 18,-12.8 Q23,0.5 18,14 Q0.5,15 -17,14 Q-22,0.5 -17,-12.8 Z" fill="url(#gPlate)" stroke="#7a7a7a" stroke-width="0.5"/><circle cx="0.5" cy="-0.3" r="8.2" fill="#d4d4d4" stroke="#5a5a5a" stroke-width="0.8"/><circle cx="0.5" cy="-0.3" r="5.74" fill="#fcfcfc"/></g><text font-family="Liberation Sans" font-size="8.4" fill="#7d7878" letter-spacing="0.35"><textPath href="#arc" startOffset="50%" text-anchor="middle">D<tspan font-size="7">E</tspan>VILBISS</textPath></text><text x="0.5" y="-17" font-family="Liberation Sans" font-size="9" fill="#7d7878" text-anchor="middle" letter-spacing="-0.2">PROLite</text><text x="-10.15" y="24.5" font-family="Liberation Sans" font-size="7.9" fill="#2e2e2e" textLength="21.3" lengthAdjust="spacing">HVLP</text><text x="-12.60" y="35.2" font-family="Liberation Sans" font-size="9.6" fill="#444" textLength="26.2" lengthAdjust="spacing">HV30</text></g>
</svg>
<div class="hd"></div>
<div class="bg" style="top:290.50px;height:54.3px"></div><div class="bg" style="top:399.10px;height:54.3px"></div>
<div class="ln" style="left:407px;top:201px;width:640.5px;height:2px"></div><div class="ln" style="left:512.9px;top:202px;width:2px;height:34px"></div><div class="ln" style="left:726.6px;top:202px;width:2px;height:34px"></div><div class="ln" style="left:939.9px;top:202px;width:2px;height:34px"></div><div class="ln" style="left:620.0px;top:148px;width:2px;height:88px"></div><div class="ln" style="left:833.4px;top:148px;width:2px;height:88px"></div>
<div class="t" style="left:1.30px;top:104.07px;font-size:26.5px;line-height:26.5px;font-weight:700;color:#f05a22;letter-spacing:0.69px;-webkit-text-stroke:0.3px #f05a22;">Air Cap Offerings</div><div class="t" style="left:11.00px;top:183.76px;font-size:18px;line-height:18px;font-weight:700;color:#fff;letter-spacing:0.17px;">Air Cap</div><div class="t" style="left:107.90px;top:183.76px;font-size:18px;line-height:18px;font-weight:700;color:#fff;letter-spacing:0.07px;">Atomization Type</div><div class="t" style="left:289.20px;top:183.76px;font-size:18px;line-height:18px;font-weight:700;color:#fff;letter-spacing:-0.05px;">Applications</div><div class="t" style="left:450.60px;top:156.76px;font-size:18px;line-height:18px;font-weight:700;color:#fff;letter-spacing:-0.15px;">Recommended</div><div class="t" style="left:452.20px;top:176.46px;font-size:18px;line-height:18px;font-weight:700;color:#fff;letter-spacing:-0.36px;">Inlet Pressures</div><div class="t" style="left:695.10px;top:156.76px;font-size:18px;line-height:18px;font-weight:700;color:#fff;letter-spacing:-0.07px;">Max Air</div><div class="t" style="left:671.00px;top:176.46px;font-size:18px;line-height:18px;font-weight:700;color:#fff;letter-spacing:-0.27px;">Consumption</div><div class="t" style="left:872.20px;top:166.76px;font-size:18px;line-height:18px;font-weight:700;color:#fff;letter-spacing:-0.15px;">Fan Pattern Size</div><div class="t" style="left:1069.70px;top:183.76px;font-size:18px;line-height:18px;font-weight:700;color:#fff;letter-spacing:-0.14px;">Nozzle Sizes</div><div class="t" style="left:446.50px;top:210.76px;font-size:18px;line-height:18px;font-weight:700;color:#fff;letter-spacing:-0.55px;">PSI</div><div class="t" style="left:548.70px;top:210.76px;font-size:18px;line-height:18px;font-weight:700;color:#fff;letter-spacing:-0.55px;">BAR</div><div class="t" style="left:649.70px;top:210.76px;font-size:18px;line-height:18px;font-weight:700;color:#fff;letter-spacing:-0.80px;">SCFM</div><div class="t" style="left:757.30px;top:210.76px;font-size:18px;line-height:18px;font-weight:700;color:#fff;letter-spacing:-1.00px;">SLPM</div><div class="t" style="left:879.90px;top:210.76px;font-size:18px;line-height:18px;font-weight:700;color:#fff;letter-spacing:-0.50px;">in</div><div class="t" style="left:978.70px;top:210.76px;font-size:18px;line-height:18px;font-weight:700;color:#fff;letter-spacing:-0.30px;">mm</div><div class="t" style="left:12.80px;top:255.91px;font-size:17px;line-height:17px;font-weight:700;color:#000;letter-spacing:-0.30px;">TE10</div><div class="t" style="left:107.52px;top:255.91px;font-size:17px;line-height:17px;font-weight:400;color:#000;letter-spacing:0.17px;transform:scaleX(1.08);transform-origin:0 50%;">High Efficiency</div><div class="t" style="left:289.45px;top:245.46px;font-size:17px;line-height:17px;font-weight:400;color:#000;transform:scaleX(1.0548780487804879);transform-origin:0 50%;">Basecoats,</div><div class="t" style="left:289.44px;top:265.26px;font-size:17px;line-height:17px;font-weight:400;color:#000;transform:scaleX(1.065);transform-origin:0 50%;">Clearcoats</div><div class="t" style="left:436.10px;top:255.91px;font-size:17px;line-height:17px;color:#000;transform:scaleX(1.07);transform-origin:4.73px 50%;">2</div><div class="t" style="left:447.18px;top:255.91px;font-size:17px;line-height:17px;color:#000;transform:scaleX(1.2);transform-origin:4.73px 50%;">0</div><div class="t" style="left:458.28px;top:255.91px;font-size:17px;line-height:17px;color:#000;transform:scaleX(1.05);transform-origin:2.83px 50%;">-</div><div class="t" style="left:464.93px;top:255.91px;font-size:17px;line-height:17px;color:#000;transform:scaleX(1.07);transform-origin:4.68px 50%;">3</div><div class="t" style="left:475.27px;top:255.91px;font-size:17px;line-height:17px;color:#000;transform:scaleX(1.07);transform-origin:4.71px 50%;">5</div><svg class="g1" style="left:541.10px;top:258.10px" width="5" height="13" viewBox="0 0 5 13"><path d="M3.65,0.5V12.2" stroke="#000" stroke-width="1.5" fill="none"/><path d="M3.9,0.8L0.5,3.3" stroke="#000" stroke-width="1.25" fill="none"/></svg><div class="t" style="left:546.49px;top:255.91px;font-size:17px;line-height:17px;color:#000;">.</div><div class="t" style="left:551.45px;top:255.91px;font-size:17px;line-height:17px;color:#000;transform:scaleX(1.07);transform-origin:4.67px 50%;">4</div><div class="t" style="left:562.03px;top:255.91px;font-size:17px;line-height:17px;color:#000;transform:scaleX(1.05);transform-origin:2.83px 50%;">-</div><div class="t" style="left:568.88px;top:255.91px;font-size:17px;line-height:17px;color:#000;transform:scaleX(1.07);transform-origin:4.73px 50%;">2</div><div class="t" style="left:578.52px;top:255.91px;font-size:17px;line-height:17px;color:#000;">.</div><div class="t" style="left:583.48px;top:255.91px;font-size:17px;line-height:17px;color:#000;transform:scaleX(1.07);transform-origin:4.67px 50%;">4</div><svg class="g1" style="left:658.35px;top:258.10px" width="5" height="13" viewBox="0 0 5 13"><path d="M3.65,0.5V12.2" stroke="#000" stroke-width="1.5" fill="none"/><path d="M3.9,0.8L0.5,3.3" stroke="#000" stroke-width="1.25" fill="none"/></svg><div class="t" style="left:665.29px;top:255.91px;font-size:17px;line-height:17px;color:#000;transform:scaleX(1.2);transform-origin:4.73px 50%;">0</div><div class="t" style="left:675.48px;top:255.91px;font-size:17px;line-height:17px;color:#000;">.</div><div class="t" style="left:680.23px;top:255.91px;font-size:17px;line-height:17px;color:#000;transform:scaleX(1.07);transform-origin:4.72px 50%;">9</div><div class="t" style="left:767.25px;top:255.91px;font-size:17px;line-height:17px;color:#000;transform:scaleX(1.07);transform-origin:4.68px 50%;">3</div><svg class="g1" style="left:777.22px;top:258.10px" width="5" height="13" viewBox="0 0 5 13"><path d="M3.65,0.5V12.2" stroke="#000" stroke-width="1.5" fill="none"/><path d="M3.9,0.8L0.5,3.3" stroke="#000" stroke-width="1.25" fill="none"/></svg><div class="t" style="left:784.13px;top:255.91px;font-size:17px;line-height:17px;color:#000;transform:scaleX(1.2);transform-origin:4.73px 50%;">0</div><svg class="g1" style="left:855.70px;top:258.10px" width="5" height="13" viewBox="0 0 5 13"><path d="M3.65,0.5V12.2" stroke="#000" stroke-width="1.5" fill="none"/><path d="M3.9,0.8L0.5,3.3" stroke="#000" stroke-width="1.25" fill="none"/></svg><svg class="g1" style="left:862.10px;top:258.10px" width="5" height="13" viewBox="0 0 5 13"><path d="M3.65,0.5V12.2" stroke="#000" stroke-width="1.5" fill="none"/><path d="M3.9,0.8L0.5,3.3" stroke="#000" stroke-width="1.25" fill="none"/></svg><div class="t" style="left:867.24px;top:255.91px;font-size:17px;line-height:17px;color:#000;">.</div><div class="t" style="left:872.52px;top:255.91px;font-size:17px;line-height:17px;color:#000;transform:scaleX(1.2);transform-origin:4.73px 50%;">0</div><div class="t" style="left:883.47px;top:255.91px;font-size:17px;line-height:17px;color:#000;transform:scaleX(1.05);transform-origin:2.83px 50%;">-</div><svg class="g1" style="left:889.60px;top:258.10px" width="5" height="13" viewBox="0 0 5 13"><path d="M3.65,0.5V12.2" stroke="#000" stroke-width="1.5" fill="none"/><path d="M3.9,0.8L0.5,3.3" stroke="#000" stroke-width="1.25" fill="none"/></svg><div class="t" style="left:895.62px;top:255.91px;font-size:17px;line-height:17px;color:#000;transform:scaleX(1.07);transform-origin:4.73px 50%;">2</div><div class="t" style="left:904.94px;top:255.91px;font-size:17px;line-height:17px;color:#000;">.</div><div class="t" style="left:910.22px;top:255.91px;font-size:17px;line-height:17px;color:#000;transform:scaleX(1.2);transform-origin:4.73px 50%;">0</div><div class="t" style="left:958.48px;top:255.91px;font-size:17px;line-height:17px;color:#000;transform:scaleX(1.07);transform-origin:4.73px 50%;">2</div><div class="t" style="left:968.81px;top:255.91px;font-size:17px;line-height:17px;color:#000;transform:scaleX(1.07);transform-origin:4.73px 50%;">8</div><div class="t" style="left:979.16px;top:255.91px;font-size:17px;line-height:17px;color:#000;transform:scaleX(1.07);transform-origin:4.71px 50%;">5</div><div class="t" style="left:989.50px;top:255.91px;font-size:17px;line-height:17px;color:#000;transform:scaleX(1.05);transform-origin:2.83px 50%;">-</div><div class="t" style="left:996.11px;top:255.91px;font-size:17px;line-height:17px;color:#000;transform:scaleX(1.07);transform-origin:4.68px 50%;">3</div><div class="t" style="left:1007.11px;top:255.91px;font-size:17px;line-height:17px;color:#000;transform:scaleX(1.2);transform-origin:4.73px 50%;">0</div><div class="t" style="left:1018.86px;top:255.91px;font-size:17px;line-height:17px;color:#000;transform:scaleX(1.2);transform-origin:4.73px 50%;">0</div><svg class="g1" style="left:1070.48px;top:258.10px" width="5" height="13" viewBox="0 0 5 13"><path d="M3.65,0.5V12.2" stroke="#000" stroke-width="1.5" fill="none"/><path d="M3.9,0.8L0.5,3.3" stroke="#000" stroke-width="1.25" fill="none"/></svg><div class="t" style="left:1075.82px;top:255.91px;font-size:17px;line-height:17px;color:#000;">.</div><svg class="g1" style="left:1080.23px;top:258.10px" width="5" height="13" viewBox="0 0 5 13"><path d="M3.65,0.5V12.2" stroke="#000" stroke-width="1.5" fill="none"/><path d="M3.9,0.8L0.5,3.3" stroke="#000" stroke-width="1.25" fill="none"/></svg><div class="t" style="left:1087.27px;top:255.91px;font-size:17px;line-height:17px;color:#000;transform:scaleX(1.06);transform-origin:7.08px 50%;">m</div><div class="t" style="left:1102.52px;top:255.91px;font-size:17px;line-height:17px;color:#000;transform:scaleX(1.06);transform-origin:7.08px 50%;">m</div><div class="t" style="left:1117.76px;top:255.91px;font-size:17px;line-height:17px;color:#000;transform:scaleX(1.05);transform-origin:2.83px 50%;">-</div><svg class="g1" style="left:1124.10px;top:258.10px" width="5" height="13" viewBox="0 0 5 13"><path d="M3.65,0.5V12.2" stroke="#000" stroke-width="1.5" fill="none"/><path d="M3.9,0.8L0.5,3.3" stroke="#000" stroke-width="1.25" fill="none"/></svg><div class="t" style="left:1129.43px;top:255.91px;font-size:17px;line-height:17px;color:#000;">.</div><div class="t" style="left:1134.29px;top:255.91px;font-size:17px;line-height:17px;color:#000;transform:scaleX(1.07);transform-origin:4.71px 50%;">5</div><div class="t" style="left:1144.83px;top:255.91px;font-size:17px;line-height:17px;color:#000;transform:scaleX(1.06);transform-origin:7.08px 50%;">m</div><div class="t" style="left:1160.07px;top:255.91px;font-size:17px;line-height:17px;color:#000;transform:scaleX(1.06);transform-origin:7.08px 50%;">m</div><div class="t" style="left:12.25px;top:310.26px;font-size:17px;line-height:17px;font-weight:700;color:#000;transform:scaleX(1.07625);transform-origin:0 50%;">TE20</div><div class="t" style="left:107.52px;top:310.26px;font-size:17px;line-height:17px;font-weight:400;color:#000;letter-spacing:0.17px;transform:scaleX(1.08);transform-origin:0 50%;">High Efficiency</div><div class="t" style="left:289.45px;top:299.81px;font-size:17px;line-height:17px;font-weight:400;color:#000;transform:scaleX(1.0548780487804879);transform-origin:0 50%;">Basecoats,</div><div class="t" style="left:289.44px;top:319.61px;font-size:17px;line-height:17px;font-weight:400;color:#000;transform:scaleX(1.065);transform-origin:0 50%;">Clearcoats</div><svg class="g1" style="left:438.95px;top:312.45px" width="5" height="13" viewBox="0 0 5 13"><path d="M3.65,0.5V12.2" stroke="#000" stroke-width="1.5" fill="none"/><path d="M3.9,0.8L0.5,3.3" stroke="#000" stroke-width="1.25" fill="none"/></svg><div class="t" style="left:445.12px;top:310.26px;font-size:17px;line-height:17px;color:#000;transform:scaleX(1.07);transform-origin:4.79px 50%;">6</div><div class="t" style="left:455.63px;top:310.26px;font-size:17px;line-height:17px;color:#000;transform:scaleX(1.05);transform-origin:2.83px 50%;">-</div><div class="t" style="left:462.28px;top:310.26px;font-size:17px;line-height:17px;color:#000;transform:scaleX(1.07);transform-origin:4.73px 50%;">2</div><div class="t" style="left:472.66px;top:310.26px;font-size:17px;line-height:17px;color:#000;transform:scaleX(1.07);transform-origin:4.79px 50%;">6</div><svg class="g1" style="left:546.93px;top:312.45px" width="5" height="13" viewBox="0 0 5 13"><path d="M3.65,0.5V12.2" stroke="#000" stroke-width="1.5" fill="none"/><path d="M3.9,0.8L0.5,3.3" stroke="#000" stroke-width="1.25" fill="none"/></svg><div class="t" style="left:552.13px;top:310.26px;font-size:17px;line-height:17px;color:#000;">.</div><svg class="g1" style="left:556.44px;top:312.45px" width="5" height="13" viewBox="0 0 5 13"><path d="M3.65,0.5V12.2" stroke="#000" stroke-width="1.5" fill="none"/><path d="M3.9,0.8L0.5,3.3" stroke="#000" stroke-width="1.25" fill="none"/></svg><div class="t" style="left:562.60px;top:310.26px;font-size:17px;line-height:17px;color:#000;transform:scaleX(1.05);transform-origin:2.83px 50%;">-</div><svg class="g1" style="left:568.80px;top:312.45px" width="5" height="13" viewBox="0 0 5 13"><path d="M3.65,0.5V12.2" stroke="#000" stroke-width="1.5" fill="none"/><path d="M3.9,0.8L0.5,3.3" stroke="#000" stroke-width="1.25" fill="none"/></svg><div class="t" style="left:574.00px;top:310.26px;font-size:17px;line-height:17px;color:#000;">.</div><div class="t" style="left:578.67px;top:310.26px;font-size:17px;line-height:17px;color:#000;transform:scaleX(1.07);transform-origin:4.73px 50%;">8</div><svg class="g1" style="left:658.79px;top:312.45px" width="5" height="13" viewBox="0 0 5 13"><path d="M3.65,0.5V12.2" stroke="#000" stroke-width="1.5" fill="none"/><path d="M3.9,0.8L0.5,3.3" stroke="#000" stroke-width="1.25" fill="none"/></svg><div class="t" style="left:664.79px;top:310.26px;font-size:17px;line-height:17px;color:#000;transform:scaleX(1.07);transform-origin:4.73px 50%;">2</div><div class="t" style="left:674.08px;top:310.26px;font-size:17px;line-height:17px;color:#000;">.</div><div class="t" style="left:679.34px;top:310.26px;font-size:17px;line-height:17px;color:#000;transform:scaleX(1.2);transform-origin:4.73px 50%;">0</div><div class="t" style="left:764.81px;top:310.26px;font-size:17px;line-height:17px;color:#000;transform:scaleX(1.07);transform-origin:4.68px 50%;">3</div><div class="t" style="left:775.35px;top:310.26px;font-size:17px;line-height:17px;color:#000;transform:scaleX(1.07);transform-origin:4.67px 50%;">4</div><div class="t" style="left:786.56px;top:310.26px;font-size:17px;line-height:17px;color:#000;transform:scaleX(1.2);transform-origin:4.73px 50%;">0</div><svg class="g1" style="left:858.10px;top:312.45px" width="5" height="13" viewBox="0 0 5 13"><path d="M3.65,0.5V12.2" stroke="#000" stroke-width="1.5" fill="none"/><path d="M3.9,0.8L0.5,3.3" stroke="#000" stroke-width="1.25" fill="none"/></svg><svg class="g1" style="left:864.50px;top:312.45px" width="5" height="13" viewBox="0 0 5 13"><path d="M3.65,0.5V12.2" stroke="#000" stroke-width="1.5" fill="none"/><path d="M3.9,0.8L0.5,3.3" stroke="#000" stroke-width="1.25" fill="none"/></svg><div class="t" style="left:869.64px;top:310.26px;font-size:17px;line-height:17px;color:#000;">.</div><div class="t" style="left:874.92px;top:310.26px;font-size:17px;line-height:17px;color:#000;transform:scaleX(1.2);transform-origin:4.73px 50%;">0</div><div class="t" style="left:885.87px;top:310.26px;font-size:17px;line-height:17px;color:#000;transform:scaleX(1.05);transform-origin:2.83px 50%;">-</div><svg class="g1" style="left:892.00px;top:312.45px" width="5" height="13" viewBox="0 0 5 13"><path d="M3.65,0.5V12.2" stroke="#000" stroke-width="1.5" fill="none"/><path d="M3.9,0.8L0.5,3.3" stroke="#000" stroke-width="1.25" fill="none"/></svg><svg class="g1" style="left:898.40px;top:312.45px" width="5" height="13" viewBox="0 0 5 13"><path d="M3.65,0.5V12.2" stroke="#000" stroke-width="1.5" fill="none"/><path d="M3.9,0.8L0.5,3.3" stroke="#000" stroke-width="1.25" fill="none"/></svg><div class="t" style="left:903.54px;top:310.26px;font-size:17px;line-height:17px;color:#000;">.</div><div class="t" style="left:908.14px;top:310.26px;font-size:17px;line-height:17px;color:#000;transform:scaleX(1.07);transform-origin:4.71px 50%;">5</div><div class="t" style="left:960.58px;top:310.26px;font-size:17px;line-height:17px;color:#000;transform:scaleX(1.07);transform-origin:4.73px 50%;">2</div><div class="t" style="left:970.66px;top:310.26px;font-size:17px;line-height:17px;color:#000;transform:scaleX(1.07);transform-origin:4.74px 50%;">7</div><div class="t" style="left:980.78px;top:310.26px;font-size:17px;line-height:17px;color:#000;transform:scaleX(1.07);transform-origin:4.71px 50%;">5</div><div class="t" style="left:990.93px;top:310.26px;font-size:17px;line-height:17px;color:#000;transform:scaleX(1.05);transform-origin:2.83px 50%;">-</div><div class="t" style="left:997.29px;top:310.26px;font-size:17px;line-height:17px;color:#000;transform:scaleX(1.07);transform-origin:4.73px 50%;">2</div><div class="t" style="left:1007.39px;top:310.26px;font-size:17px;line-height:17px;color:#000;transform:scaleX(1.07);transform-origin:4.72px 50%;">9</div><div class="t" style="left:1018.17px;top:310.26px;font-size:17px;line-height:17px;color:#000;transform:scaleX(1.2);transform-origin:4.73px 50%;">0</div><svg class="g1" style="left:1070.48px;top:312.45px" width="5" height="13" viewBox="0 0 5 13"><path d="M3.65,0.5V12.2" stroke="#000" stroke-width="1.5" fill="none"/><path d="M3.9,0.8L0.5,3.3" stroke="#000" stroke-width="1.25" fill="none"/></svg><div class="t" style="left:1075.82px;top:310.26px;font-size:17px;line-height:17px;color:#000;">.</div><svg class="g1" style="left:1080.23px;top:312.45px" width="5" height="13" viewBox="0 0 5 13"><path d="M3.65,0.5V12.2" stroke="#000" stroke-width="1.5" fill="none"/><path d="M3.9,0.8L0.5,3.3" stroke="#000" stroke-width="1.25" fill="none"/></svg><div class="t" style="left:1087.27px;top:310.26px;font-size:17px;line-height:17px;color:#000;transform:scaleX(1.06);transform-origin:7.08px 50%;">m</div><div class="t" style="left:1102.52px;top:310.26px;font-size:17px;line-height:17px;color:#000;transform:scaleX(1.06);transform-origin:7.08px 50%;">m</div><div class="t" style="left:1117.76px;top:310.26px;font-size:17px;line-height:17px;color:#000;transform:scaleX(1.05);transform-origin:2.83px 50%;">-</div><svg class="g1" style="left:1124.10px;top:312.45px" width="5" height="13" viewBox="0 0 5 13"><path d="M3.65,0.5V12.2" stroke="#000" stroke-width="1.5" fill="none"/><path d="M3.9,0.8L0.5,3.3" stroke="#000" stroke-width="1.25" fill="none"/></svg><div class="t" style="left:1129.43px;top:310.26px;font-size:17px;line-height:17px;color:#000;">.</div><div class="t" style="left:1134.29px;top:310.26px;font-size:17px;line-height:17px;color:#000;transform:scaleX(1.07);transform-origin:4.71px 50%;">5</div><div class="t" style="left:1144.83px;top:310.26px;font-size:17px;line-height:17px;color:#000;transform:scaleX(1.06);transform-origin:7.08px 50%;">m</div><div class="t" style="left:1160.07px;top:310.26px;font-size:17px;line-height:17px;color:#000;transform:scaleX(1.06);transform-origin:7.08px 50%;">m</div><div class="t" style="left:12.00px;top:364.61px;font-size:17px;line-height:17px;font-weight:700;color:#000;transform:scaleX(1.0550000000000002);transform-origin:0 50%;">TE25</div><div class="t" style="left:107.52px;top:364.61px;font-size:17px;line-height:17px;font-weight:400;color:#000;letter-spacing:0.17px;transform:scaleX(1.08);transform-origin:0 50%;">High Efficiency</div><div class="t" style="left:289.45px;top:354.16px;font-size:17px;line-height:17px;font-weight:400;color:#000;transform:scaleX(1.0548780487804879);transform-origin:0 50%;">Basecoats,</div><div class="t" style="left:289.44px;top:373.96px;font-size:17px;line-height:17px;font-weight:400;color:#000;transform:scaleX(1.065);transform-origin:0 50%;">Clearcoats</div><div class="t" style="left:436.87px;top:364.61px;font-size:17px;line-height:17px;color:#000;transform:scaleX(1.07);transform-origin:4.73px 50%;">2</div><div class="t" style="left:447.18px;top:364.61px;font-size:17px;line-height:17px;color:#000;transform:scaleX(1.07);transform-origin:4.73px 50%;">2</div><div class="t" style="left:457.52px;top:364.61px;font-size:17px;line-height:17px;color:#000;transform:scaleX(1.05);transform-origin:2.83px 50%;">-</div><div class="t" style="left:464.06px;top:364.61px;font-size:17px;line-height:17px;color:#000;transform:scaleX(1.07);transform-origin:4.73px 50%;">2</div><div class="t" style="left:474.38px;top:364.61px;font-size:17px;line-height:17px;color:#000;transform:scaleX(1.07);transform-origin:4.72px 50%;">9</div><svg class="g1" style="left:541.61px;top:366.80px" width="5" height="13" viewBox="0 0 5 13"><path d="M3.65,0.5V12.2" stroke="#000" stroke-width="1.5" fill="none"/><path d="M3.9,0.8L0.5,3.3" stroke="#000" stroke-width="1.25" fill="none"/></svg><div class="t" style="left:546.78px;top:364.61px;font-size:17px;line-height:17px;color:#000;">.</div><div class="t" style="left:551.42px;top:364.61px;font-size:17px;line-height:17px;color:#000;transform:scaleX(1.07);transform-origin:4.71px 50%;">5</div><div class="t" style="left:561.70px;top:364.61px;font-size:17px;line-height:17px;color:#000;transform:scaleX(1.05);transform-origin:2.83px 50%;">-</div><div class="t" style="left:568.21px;top:364.61px;font-size:17px;line-height:17px;color:#000;transform:scaleX(1.07);transform-origin:4.73px 50%;">2</div><div class="t" style="left:577.56px;top:364.61px;font-size:17px;line-height:17px;color:#000;">.</div><div class="t" style="left:582.89px;top:364.61px;font-size:17px;line-height:17px;color:#000;transform:scaleX(1.2);transform-origin:4.73px 50%;">0</div><svg class="g1" style="left:659.32px;top:366.80px" width="5" height="13" viewBox="0 0 5 13"><path d="M3.65,0.5V12.2" stroke="#000" stroke-width="1.5" fill="none"/><path d="M3.9,0.8L0.5,3.3" stroke="#000" stroke-width="1.25" fill="none"/></svg><div class="t" style="left:665.43px;top:364.61px;font-size:17px;line-height:17px;color:#000;transform:scaleX(1.07);transform-origin:4.73px 50%;">2</div><div class="t" style="left:674.82px;top:364.61px;font-size:17px;line-height:17px;color:#000;">.</div><div class="t" style="left:679.53px;top:364.61px;font-size:17px;line-height:17px;color:#000;transform:scaleX(1.07);transform-origin:4.67px 50%;">4</div><div class="t" style="left:765.39px;top:364.61px;font-size:17px;line-height:17px;color:#000;transform:scaleX(1.07);transform-origin:4.68px 50%;">3</div><div class="t" style="left:775.35px;top:364.61px;font-size:17px;line-height:17px;color:#000;transform:scaleX(1.07);transform-origin:4.71px 50%;">5</div><div class="t" style="left:786.02px;top:364.61px;font-size:17px;line-height:17px;color:#000;transform:scaleX(1.2);transform-origin:4.73px 50%;">0</div><svg class="g1" style="left:855.70px;top:366.80px" width="5" height="13" viewBox="0 0 5 13"><path d="M3.65,0.5V12.2" stroke="#000" stroke-width="1.5" fill="none"/><path d="M3.9,0.8L0.5,3.3" stroke="#000" stroke-width="1.25" fill="none"/></svg><div class="t" style="left:862.42px;top:364.61px;font-size:17px;line-height:17px;color:#000;transform:scaleX(1.2);transform-origin:4.73px 50%;">0</div><div class="t" style="left:872.44px;top:364.61px;font-size:17px;line-height:17px;color:#000;">.</div><div class="t" style="left:877.04px;top:364.61px;font-size:17px;line-height:17px;color:#000;transform:scaleX(1.07);transform-origin:4.71px 50%;">5</div><div class="t" style="left:887.27px;top:364.61px;font-size:17px;line-height:17px;color:#000;transform:scaleX(1.05);transform-origin:2.83px 50%;">-</div><svg class="g1" style="left:893.40px;top:366.80px" width="5" height="13" viewBox="0 0 5 13"><path d="M3.65,0.5V12.2" stroke="#000" stroke-width="1.5" fill="none"/><path d="M3.9,0.8L0.5,3.3" stroke="#000" stroke-width="1.25" fill="none"/></svg><svg class="g1" style="left:899.80px;top:366.80px" width="5" height="13" viewBox="0 0 5 13"><path d="M3.65,0.5V12.2" stroke="#000" stroke-width="1.5" fill="none"/><path d="M3.9,0.8L0.5,3.3" stroke="#000" stroke-width="1.25" fill="none"/></svg><div class="t" style="left:904.94px;top:364.61px;font-size:17px;line-height:17px;color:#000;">.</div><div class="t" style="left:910.22px;top:364.61px;font-size:17px;line-height:17px;color:#000;transform:scaleX(1.2);transform-origin:4.73px 50%;">0</div><div class="t" style="left:960.58px;top:364.61px;font-size:17px;line-height:17px;color:#000;transform:scaleX(1.07);transform-origin:4.73px 50%;">2</div><div class="t" style="left:970.66px;top:364.61px;font-size:17px;line-height:17px;color:#000;transform:scaleX(1.07);transform-origin:4.74px 50%;">7</div><div class="t" style="left:981.46px;top:364.61px;font-size:17px;line-height:17px;color:#000;transform:scaleX(1.2);transform-origin:4.73px 50%;">0</div><div class="t" style="left:992.31px;top:364.61px;font-size:17px;line-height:17px;color:#000;transform:scaleX(1.05);transform-origin:2.83px 50%;">-</div><div class="t" style="left:998.68px;top:364.61px;font-size:17px;line-height:17px;color:#000;transform:scaleX(1.07);transform-origin:4.73px 50%;">2</div><div class="t" style="left:1008.77px;top:364.61px;font-size:17px;line-height:17px;color:#000;transform:scaleX(1.07);transform-origin:4.73px 50%;">8</div><div class="t" style="left:1018.88px;top:364.61px;font-size:17px;line-height:17px;color:#000;transform:scaleX(1.07);transform-origin:4.71px 50%;">5</div><svg class="g1" style="left:1070.48px;top:366.80px" width="5" height="13" viewBox="0 0 5 13"><path d="M3.65,0.5V12.2" stroke="#000" stroke-width="1.5" fill="none"/><path d="M3.9,0.8L0.5,3.3" stroke="#000" stroke-width="1.25" fill="none"/></svg><div class="t" style="left:1075.82px;top:364.61px;font-size:17px;line-height:17px;color:#000;">.</div><svg class="g1" style="left:1080.23px;top:366.80px" width="5" height="13" viewBox="0 0 5 13"><path d="M3.65,0.5V12.2" stroke="#000" stroke-width="1.5" fill="none"/><path d="M3.9,0.8L0.5,3.3" stroke="#000" stroke-width="1.25" fill="none"/></svg><div class="t" style="left:1087.27px;top:364.61px;font-size:17px;line-height:17px;color:#000;transform:scaleX(1.06);transform-origin:7.08px 50%;">m</div><div class="t" style="left:1102.52px;top:364.61px;font-size:17px;line-height:17px;color:#000;transform:scaleX(1.06);transform-origin:7.08px 50%;">m</div><div class="t" style="left:1117.76px;top:364.61px;font-size:17px;line-height:17px;color:#000;transform:scaleX(1.05);transform-origin:2.83px 50%;">-</div><svg class="g1" style="left:1124.10px;top:366.80px" width="5" height="13" viewBox="0 0 5 13"><path d="M3.65,0.5V12.2" stroke="#000" stroke-width="1.5" fill="none"/><path d="M3.9,0.8L0.5,3.3" stroke="#000" stroke-width="1.25" fill="none"/></svg><div class="t" style="left:1129.43px;top:364.61px;font-size:17px;line-height:17px;color:#000;">.</div><div class="t" style="left:1134.29px;top:364.61px;font-size:17px;line-height:17px;color:#000;transform:scaleX(1.07);transform-origin:4.71px 50%;">5</div><div class="t" style="left:1144.83px;top:364.61px;font-size:17px;line-height:17px;color:#000;transform:scaleX(1.06);transform-origin:7.08px 50%;">m</div><div class="t" style="left:1160.07px;top:364.61px;font-size:17px;line-height:17px;color:#000;transform:scaleX(1.06);transform-origin:7.08px 50%;">m</div><div class="t" style="left:12.00px;top:418.96px;font-size:17px;line-height:17px;font-weight:700;color:#000;letter-spacing:-0.37px;">T110</div><div class="t" style="left:107.52px;top:418.96px;font-size:17px;line-height:17px;font-weight:400;color:#000;letter-spacing:0.17px;transform:scaleX(1.08);transform-origin:0 50%;">High Efficiency</div><div class="t" style="left:289.45px;top:408.51px;font-size:17px;line-height:17px;font-weight:400;color:#000;transform:scaleX(1.0548780487804879);transform-origin:0 50%;">Basecoats,</div><div class="t" style="left:289.44px;top:428.31px;font-size:17px;line-height:17px;font-weight:400;color:#000;transform:scaleX(1.065);transform-origin:0 50%;">Clearcoats</div><div class="t" style="left:436.87px;top:418.96px;font-size:17px;line-height:17px;color:#000;transform:scaleX(1.07);transform-origin:4.73px 50%;">2</div><div class="t" style="left:447.18px;top:418.96px;font-size:17px;line-height:17px;color:#000;transform:scaleX(1.07);transform-origin:4.73px 50%;">2</div><div class="t" style="left:457.52px;top:418.96px;font-size:17px;line-height:17px;color:#000;transform:scaleX(1.05);transform-origin:2.83px 50%;">-</div><div class="t" style="left:464.06px;top:418.96px;font-size:17px;line-height:17px;color:#000;transform:scaleX(1.07);transform-origin:4.73px 50%;">2</div><div class="t" style="left:474.38px;top:418.96px;font-size:17px;line-height:17px;color:#000;transform:scaleX(1.07);transform-origin:4.72px 50%;">9</div><svg class="g1" style="left:541.61px;top:421.15px" width="5" height="13" viewBox="0 0 5 13"><path d="M3.65,0.5V12.2" stroke="#000" stroke-width="1.5" fill="none"/><path d="M3.9,0.8L0.5,3.3" stroke="#000" stroke-width="1.25" fill="none"/></svg><div class="t" style="left:546.78px;top:418.96px;font-size:17px;line-height:17px;color:#000;">.</div><div class="t" style="left:551.42px;top:418.96px;font-size:17px;line-height:17px;color:#000;transform:scaleX(1.07);transform-origin:4.71px 50%;">5</div><div class="t" style="left:561.70px;top:418.96px;font-size:17px;line-height:17px;color:#000;transform:scaleX(1.05);transform-origin:2.83px 50%;">-</div><div class="t" style="left:568.21px;top:418.96px;font-size:17px;line-height:17px;color:#000;transform:scaleX(1.07);transform-origin:4.73px 50%;">2</div><div class="t" style="left:577.56px;top:418.96px;font-size:17px;line-height:17px;color:#000;">.</div><div class="t" style="left:582.89px;top:418.96px;font-size:17px;line-height:17px;color:#000;transform:scaleX(1.2);transform-origin:4.73px 50%;">0</div><div class="t" style="left:661.56px;top:418.96px;font-size:17px;line-height:17px;color:#000;transform:scaleX(1.07);transform-origin:4.72px 50%;">9</div><div class="t" style="left:671.59px;top:418.96px;font-size:17px;line-height:17px;color:#000;">.</div><div class="t" style="left:676.94px;top:418.96px;font-size:17px;line-height:17px;color:#000;transform:scaleX(1.07);transform-origin:4.67px 50%;">4</div><div class="t" style="left:765.54px;top:418.96px;font-size:17px;line-height:17px;color:#000;transform:scaleX(1.07);transform-origin:4.73px 50%;">2</div><div class="t" style="left:775.96px;top:418.96px;font-size:17px;line-height:17px;color:#000;transform:scaleX(1.07);transform-origin:4.79px 50%;">6</div><div class="t" style="left:786.52px;top:418.96px;font-size:17px;line-height:17px;color:#000;transform:scaleX(1.07);transform-origin:4.71px 50%;">5</div><svg class="g1" style="left:855.70px;top:421.15px" width="5" height="13" viewBox="0 0 5 13"><path d="M3.65,0.5V12.2" stroke="#000" stroke-width="1.5" fill="none"/><path d="M3.9,0.8L0.5,3.3" stroke="#000" stroke-width="1.25" fill="none"/></svg><svg class="g1" style="left:862.10px;top:421.15px" width="5" height="13" viewBox="0 0 5 13"><path d="M3.65,0.5V12.2" stroke="#000" stroke-width="1.5" fill="none"/><path d="M3.9,0.8L0.5,3.3" stroke="#000" stroke-width="1.25" fill="none"/></svg><div class="t" style="left:867.24px;top:418.96px;font-size:17px;line-height:17px;color:#000;">.</div><div class="t" style="left:872.52px;top:418.96px;font-size:17px;line-height:17px;color:#000;transform:scaleX(1.2);transform-origin:4.73px 50%;">0</div><div class="t" style="left:883.47px;top:418.96px;font-size:17px;line-height:17px;color:#000;transform:scaleX(1.05);transform-origin:2.83px 50%;">-</div><svg class="g1" style="left:889.60px;top:421.15px" width="5" height="13" viewBox="0 0 5 13"><path d="M3.65,0.5V12.2" stroke="#000" stroke-width="1.5" fill="none"/><path d="M3.9,0.8L0.5,3.3" stroke="#000" stroke-width="1.25" fill="none"/></svg><div class="t" style="left:895.62px;top:418.96px;font-size:17px;line-height:17px;color:#000;transform:scaleX(1.07);transform-origin:4.73px 50%;">2</div><div class="t" style="left:904.94px;top:418.96px;font-size:17px;line-height:17px;color:#000;">.</div><div class="t" style="left:910.22px;top:418.96px;font-size:17px;line-height:17px;color:#000;transform:scaleX(1.2);transform-origin:4.73px 50%;">0</div><div class="t" style="left:958.48px;top:418.96px;font-size:17px;line-height:17px;color:#000;transform:scaleX(1.07);transform-origin:4.73px 50%;">2</div><div class="t" style="left:968.81px;top:418.96px;font-size:17px;line-height:17px;color:#000;transform:scaleX(1.07);transform-origin:4.73px 50%;">8</div><div class="t" style="left:979.16px;top:418.96px;font-size:17px;line-height:17px;color:#000;transform:scaleX(1.07);transform-origin:4.71px 50%;">5</div><div class="t" style="left:989.50px;top:418.96px;font-size:17px;line-height:17px;color:#000;transform:scaleX(1.05);transform-origin:2.83px 50%;">-</div><div class="t" style="left:996.11px;top:418.96px;font-size:17px;line-height:17px;color:#000;transform:scaleX(1.07);transform-origin:4.68px 50%;">3</div><div class="t" style="left:1007.11px;top:418.96px;font-size:17px;line-height:17px;color:#000;transform:scaleX(1.2);transform-origin:4.73px 50%;">0</div><div class="t" style="left:1018.86px;top:418.96px;font-size:17px;line-height:17px;color:#000;transform:scaleX(1.2);transform-origin:4.73px 50%;">0</div><svg class="g1" style="left:1070.48px;top:421.15px" width="5" height="13" viewBox="0 0 5 13"><path d="M3.65,0.5V12.2" stroke="#000" stroke-width="1.5" fill="none"/><path d="M3.9,0.8L0.5,3.3" stroke="#000" stroke-width="1.25" fill="none"/></svg><div class="t" style="left:1075.82px;top:418.96px;font-size:17px;line-height:17px;color:#000;">.</div><svg class="g1" style="left:1080.23px;top:421.15px" width="5" height="13" viewBox="0 0 5 13"><path d="M3.65,0.5V12.2" stroke="#000" stroke-width="1.5" fill="none"/><path d="M3.9,0.8L0.5,3.3" stroke="#000" stroke-width="1.25" fill="none"/></svg><div class="t" style="left:1087.27px;top:418.96px;font-size:17px;line-height:17px;color:#000;transform:scaleX(1.06);transform-origin:7.08px 50%;">m</div><div class="t" style="left:1102.52px;top:418.96px;font-size:17px;line-height:17px;color:#000;transform:scaleX(1.06);transform-origin:7.08px 50%;">m</div><div class="t" style="left:1117.76px;top:418.96px;font-size:17px;line-height:17px;color:#000;transform:scaleX(1.05);transform-origin:2.83px 50%;">-</div><svg class="g1" style="left:1124.10px;top:421.15px" width="5" height="13" viewBox="0 0 5 13"><path d="M3.65,0.5V12.2" stroke="#000" stroke-width="1.5" fill="none"/><path d="M3.9,0.8L0.5,3.3" stroke="#000" stroke-width="1.25" fill="none"/></svg><div class="t" style="left:1129.43px;top:418.96px;font-size:17px;line-height:17px;color:#000;">.</div><div class="t" style="left:1134.29px;top:418.96px;font-size:17px;line-height:17px;color:#000;transform:scaleX(1.07);transform-origin:4.71px 50%;">5</div><div class="t" style="left:1144.83px;top:418.96px;font-size:17px;line-height:17px;color:#000;transform:scaleX(1.06);transform-origin:7.08px 50%;">m</div><div class="t" style="left:1160.07px;top:418.96px;font-size:17px;line-height:17px;color:#000;transform:scaleX(1.06);transform-origin:7.08px 50%;">m</div><div class="t" style="left:11.42px;top:473.31px;font-size:17px;line-height:17px;font-weight:700;color:#000;letter-spacing:0.53px;transform:scaleX(1.08);transform-origin:0 50%;">HV30</div><div class="t" style="left:107.34px;top:473.31px;font-size:17px;line-height:17px;font-weight:400;color:#000;transform:scaleX(1.0627906976744184);transform-origin:0 50%;">HVLP</div><div class="t" style="left:289.45px;top:462.86px;font-size:17px;line-height:17px;font-weight:400;color:#000;transform:scaleX(1.0548780487804879);transform-origin:0 50%;">Basecoats,</div><div class="t" style="left:289.44px;top:482.66px;font-size:17px;line-height:17px;font-weight:400;color:#000;transform:scaleX(1.065);transform-origin:0 50%;">Clearcoats</div><svg class="g1" style="left:439.45px;top:475.50px" width="5" height="13" viewBox="0 0 5 13"><path d="M3.65,0.5V12.2" stroke="#000" stroke-width="1.5" fill="none"/><path d="M3.9,0.8L0.5,3.3" stroke="#000" stroke-width="1.25" fill="none"/></svg><div class="t" style="left:445.73px;top:473.31px;font-size:17px;line-height:17px;color:#000;transform:scaleX(1.07);transform-origin:4.67px 50%;">4</div><div class="t" style="left:456.13px;top:473.31px;font-size:17px;line-height:17px;color:#000;transform:scaleX(1.05);transform-origin:2.83px 50%;">-</div><div class="t" style="left:462.78px;top:473.31px;font-size:17px;line-height:17px;color:#000;transform:scaleX(1.07);transform-origin:4.73px 50%;">2</div><div class="t" style="left:473.24px;top:473.31px;font-size:17px;line-height:17px;color:#000;transform:scaleX(1.07);transform-origin:4.71px 50%;">5</div><svg class="g1" style="left:539.35px;top:475.50px" width="5" height="13" viewBox="0 0 5 13"><path d="M3.65,0.5V12.2" stroke="#000" stroke-width="1.5" fill="none"/><path d="M3.9,0.8L0.5,3.3" stroke="#000" stroke-width="1.25" fill="none"/></svg><div class="t" style="left:544.38px;top:473.31px;font-size:17px;line-height:17px;color:#000;">.</div><div class="t" style="left:549.50px;top:473.31px;font-size:17px;line-height:17px;color:#000;transform:scaleX(1.2);transform-origin:4.73px 50%;">0</div><div class="t" style="left:560.25px;top:473.31px;font-size:17px;line-height:17px;color:#000;transform:scaleX(1.05);transform-origin:2.83px 50%;">-</div><svg class="g1" style="left:566.27px;top:475.50px" width="5" height="13" viewBox="0 0 5 13"><path d="M3.65,0.5V12.2" stroke="#000" stroke-width="1.5" fill="none"/><path d="M3.9,0.8L0.5,3.3" stroke="#000" stroke-width="1.25" fill="none"/></svg><div class="t" style="left:571.29px;top:473.31px;font-size:17px;line-height:17px;color:#000;">.</div><div class="t" style="left:575.72px;top:473.31px;font-size:17px;line-height:17px;color:#000;transform:scaleX(1.07);transform-origin:4.74px 50%;">7</div><div class="t" style="left:585.73px;top:473.31px;font-size:17px;line-height:17px;color:#000;transform:scaleX(1.07);transform-origin:4.71px 50%;">5</div><svg class="g1" style="left:659.32px;top:475.50px" width="5" height="13" viewBox="0 0 5 13"><path d="M3.65,0.5V12.2" stroke="#000" stroke-width="1.5" fill="none"/><path d="M3.9,0.8L0.5,3.3" stroke="#000" stroke-width="1.25" fill="none"/></svg><div class="t" style="left:665.45px;top:473.31px;font-size:17px;line-height:17px;color:#000;transform:scaleX(1.07);transform-origin:4.71px 50%;">5</div><div class="t" style="left:674.82px;top:473.31px;font-size:17px;line-height:17px;color:#000;">.</div><div class="t" style="left:679.50px;top:473.31px;font-size:17px;line-height:17px;color:#000;transform:scaleX(1.07);transform-origin:4.71px 50%;">5</div><div class="t" style="left:764.60px;top:473.31px;font-size:17px;line-height:17px;color:#000;transform:scaleX(1.07);transform-origin:4.67px 50%;">4</div><div class="t" style="left:775.34px;top:473.31px;font-size:17px;line-height:17px;color:#000;transform:scaleX(1.07);transform-origin:4.67px 50%;">4</div><div class="t" style="left:786.76px;top:473.31px;font-size:17px;line-height:17px;color:#000;transform:scaleX(1.2);transform-origin:4.73px 50%;">0</div><svg class="g1" style="left:857.29px;top:475.50px" width="5" height="13" viewBox="0 0 5 13"><path d="M3.65,0.5V12.2" stroke="#000" stroke-width="1.5" fill="none"/><path d="M3.9,0.8L0.5,3.3" stroke="#000" stroke-width="1.25" fill="none"/></svg><svg class="g1" style="left:863.64px;top:475.50px" width="5" height="13" viewBox="0 0 5 13"><path d="M3.65,0.5V12.2" stroke="#000" stroke-width="1.5" fill="none"/><path d="M3.9,0.8L0.5,3.3" stroke="#000" stroke-width="1.25" fill="none"/></svg><div class="t" style="left:868.75px;top:473.31px;font-size:17px;line-height:17px;color:#000;">.</div><div class="t" style="left:873.30px;top:473.31px;font-size:17px;line-height:17px;color:#000;transform:scaleX(1.07);transform-origin:4.71px 50%;">5</div><div class="t" style="left:883.48px;top:473.31px;font-size:17px;line-height:17px;color:#000;transform:scaleX(1.05);transform-origin:2.83px 50%;">-</div><svg class="g1" style="left:889.57px;top:475.50px" width="5" height="13" viewBox="0 0 5 13"><path d="M3.65,0.5V12.2" stroke="#000" stroke-width="1.5" fill="none"/><path d="M3.9,0.8L0.5,3.3" stroke="#000" stroke-width="1.25" fill="none"/></svg><div class="t" style="left:895.54px;top:473.31px;font-size:17px;line-height:17px;color:#000;transform:scaleX(1.07);transform-origin:4.73px 50%;">2</div><div class="t" style="left:904.81px;top:473.31px;font-size:17px;line-height:17px;color:#000;">.</div><div class="t" style="left:909.37px;top:473.31px;font-size:17px;line-height:17px;color:#000;transform:scaleX(1.07);transform-origin:4.71px 50%;">5</div><div class="t" style="left:961.85px;top:473.31px;font-size:17px;line-height:17px;color:#000;transform:scaleX(1.07);transform-origin:4.73px 50%;">2</div><div class="t" style="left:972.36px;top:473.31px;font-size:17px;line-height:17px;color:#000;transform:scaleX(1.07);transform-origin:4.72px 50%;">9</div><div class="t" style="left:983.59px;top:473.31px;font-size:17px;line-height:17px;color:#000;transform:scaleX(1.2);transform-origin:4.73px 50%;">0</div><div class="t" style="left:994.81px;top:473.31px;font-size:17px;line-height:17px;color:#000;transform:scaleX(1.05);transform-origin:2.83px 50%;">-</div><div class="t" style="left:1001.56px;top:473.31px;font-size:17px;line-height:17px;color:#000;transform:scaleX(1.07);transform-origin:4.68px 50%;">3</div><svg class="g1" style="left:1011.61px;top:475.50px" width="5" height="13" viewBox="0 0 5 13"><path d="M3.65,0.5V12.2" stroke="#000" stroke-width="1.5" fill="none"/><path d="M3.9,0.8L0.5,3.3" stroke="#000" stroke-width="1.25" fill="none"/></svg><div class="t" style="left:1017.91px;top:473.31px;font-size:17px;line-height:17px;color:#000;transform:scaleX(1.07);transform-origin:4.71px 50%;">5</div><svg class="g1" style="left:1070.48px;top:475.50px" width="5" height="13" viewBox="0 0 5 13"><path d="M3.65,0.5V12.2" stroke="#000" stroke-width="1.5" fill="none"/><path d="M3.9,0.8L0.5,3.3" stroke="#000" stroke-width="1.25" fill="none"/></svg><div class="t" style="left:1075.82px;top:473.31px;font-size:17px;line-height:17px;color:#000;">.</div><svg class="g1" style="left:1080.23px;top:475.50px" width="5" height="13" viewBox="0 0 5 13"><path d="M3.65,0.5V12.2" stroke="#000" stroke-width="1.5" fill="none"/><path d="M3.9,0.8L0.5,3.3" stroke="#000" stroke-width="1.25" fill="none"/></svg><div class="t" style="left:1087.27px;top:473.31px;font-size:17px;line-height:17px;color:#000;transform:scaleX(1.06);transform-origin:7.08px 50%;">m</div><div class="t" style="left:1102.52px;top:473.31px;font-size:17px;line-height:17px;color:#000;transform:scaleX(1.06);transform-origin:7.08px 50%;">m</div><div class="t" style="left:1117.76px;top:473.31px;font-size:17px;line-height:17px;color:#000;transform:scaleX(1.05);transform-origin:2.83px 50%;">-</div><svg class="g1" style="left:1124.10px;top:475.50px" width="5" height="13" viewBox="0 0 5 13"><path d="M3.65,0.5V12.2" stroke="#000" stroke-width="1.5" fill="none"/><path d="M3.9,0.8L0.5,3.3" stroke="#000" stroke-width="1.25" fill="none"/></svg><div class="t" style="left:1129.43px;top:473.31px;font-size:17px;line-height:17px;color:#000;">.</div><div class="t" style="left:1134.29px;top:473.31px;font-size:17px;line-height:17px;color:#000;transform:scaleX(1.07);transform-origin:4.71px 50%;">5</div><div class="t" style="left:1144.83px;top:473.31px;font-size:17px;line-height:17px;color:#000;transform:scaleX(1.06);transform-origin:7.08px 50%;">m</div><div class="t" style="left:1160.07px;top:473.31px;font-size:17px;line-height:17px;color:#000;transform:scaleX(1.06);transform-origin:7.08px 50%;">m</div>
</body></html>
